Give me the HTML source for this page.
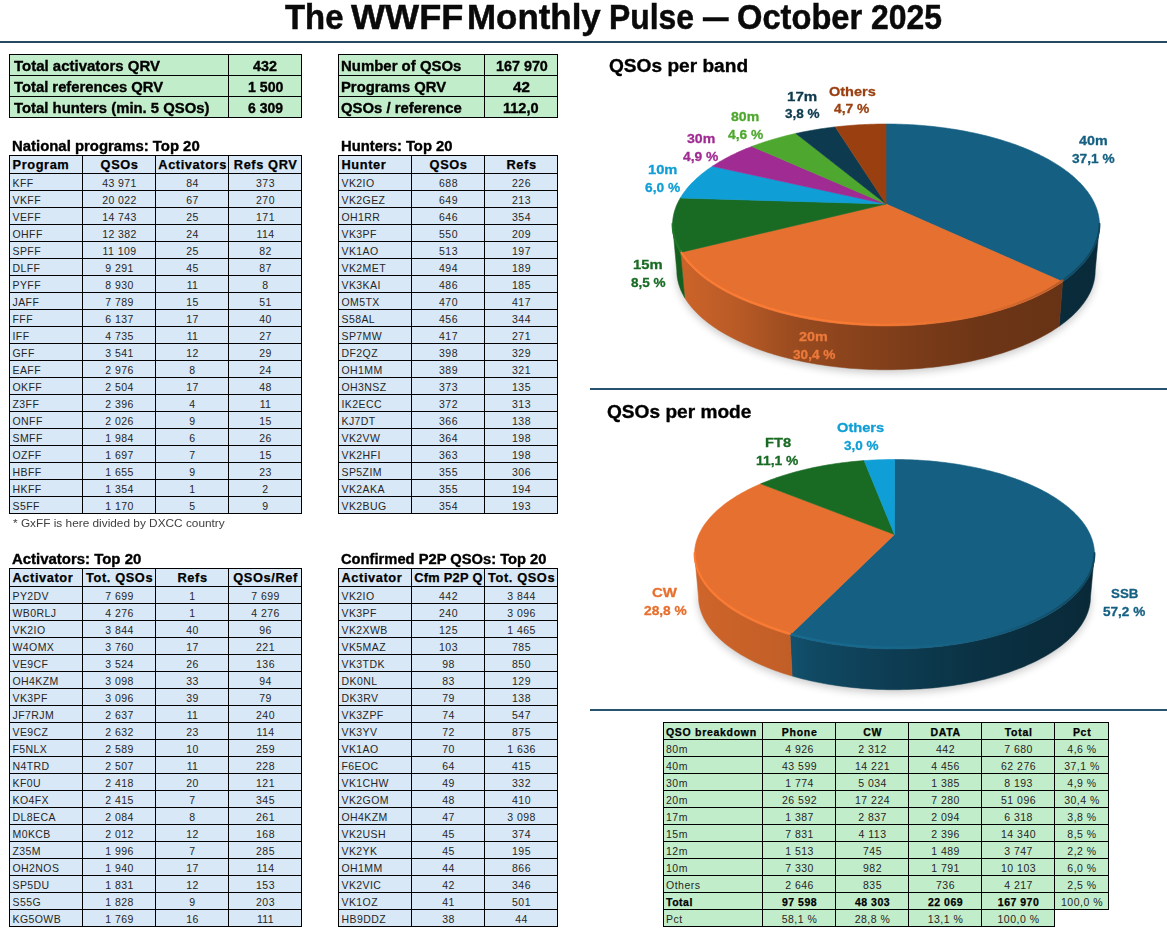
<!DOCTYPE html>
<html><head><meta charset="utf-8"><title>The WWFF Monthly Pulse - October 2025</title>
<style>
html,body{margin:0;padding:0;background:#fff;}
#pg{position:relative;width:1167px;height:932px;overflow:hidden;background:#fff;font-family:"Liberation Sans", sans-serif;}
.t{position:absolute;white-space:nowrap;}
.r{position:absolute;}
.pies{position:absolute;left:0;top:0;}
</style></head><body><div id="pg">
<div class="t" style="left:284.63px;top:-0.14px;font-size:34.9px;line-height:34.9px;color:#0a0a0a;font-weight:bold;transform:scaleX(0.9427483258658174);transform-origin:left top;-webkit-text-stroke:0.5px #0a0a0a;">The</div>
<div class="t" style="left:350.96px;top:-0.14px;font-size:34.9px;line-height:34.9px;color:#0a0a0a;font-weight:bold;transform:scaleX(1.035399185355529);transform-origin:left top;-webkit-text-stroke:0.5px #0a0a0a;">WWFF</div>
<div class="t" style="left:467.16px;top:-0.14px;font-size:34.9px;line-height:34.9px;color:#0a0a0a;font-weight:bold;transform:scaleX(1.000511599542946);transform-origin:left top;-webkit-text-stroke:0.5px #0a0a0a;">Monthly</div>
<div class="t" style="left:609.47px;top:-0.14px;font-size:34.9px;line-height:34.9px;color:#0a0a0a;font-weight:bold;transform:scaleX(0.9131031731194259);transform-origin:left top;-webkit-text-stroke:0.5px #0a0a0a;">Pulse</div>
<div class="t" style="left:702.60px;top:-0.14px;font-size:34.9px;line-height:34.9px;color:#0a0a0a;font-weight:bold;transform:scaleX(0.7306590257879656);transform-origin:left top;-webkit-text-stroke:0.5px #0a0a0a;">—</div>
<div class="t" style="left:736.76px;top:-0.14px;font-size:34.9px;line-height:34.9px;color:#0a0a0a;font-weight:bold;transform:scaleX(0.9359380167416419);transform-origin:left top;-webkit-text-stroke:0.5px #0a0a0a;">October</div>
<div class="t" style="left:870.89px;top:-0.14px;font-size:34.9px;line-height:34.9px;color:#0a0a0a;font-weight:bold;transform:scaleX(0.9144206055241069);transform-origin:left top;-webkit-text-stroke:0.5px #0a0a0a;">2025</div>
<div class="r" style="left:0px;top:41px;width:1167px;height:2px;background:#25495f;"></div>
<div class="r" style="left:9px;top:54px;width:293px;height:22px;background:#c2edca;"></div>
<div class="r" style="left:9px;top:75px;width:293px;height:22px;background:#c2edca;"></div>
<div class="r" style="left:9px;top:96px;width:293px;height:22px;background:#c2edca;"></div>
<div class="r" style="left:9px;top:54px;width:293px;height:1px;background:#000;"></div>
<div class="r" style="left:9px;top:75px;width:293px;height:1px;background:#000;"></div>
<div class="r" style="left:9px;top:96px;width:293px;height:1px;background:#000;"></div>
<div class="r" style="left:9px;top:117px;width:293px;height:1px;background:#000;"></div>
<div class="r" style="left:9px;top:54px;width:1px;height:64px;background:#000;"></div>
<div class="r" style="left:228px;top:54px;width:1px;height:64px;background:#000;"></div>
<div class="r" style="left:301px;top:54px;width:1px;height:64px;background:#000;"></div>
<div class="r" style="left:338px;top:54px;width:220px;height:22px;background:#c2edca;"></div>
<div class="r" style="left:338px;top:75px;width:220px;height:22px;background:#c2edca;"></div>
<div class="r" style="left:338px;top:96px;width:220px;height:22px;background:#c2edca;"></div>
<div class="r" style="left:338px;top:54px;width:220px;height:1px;background:#000;"></div>
<div class="r" style="left:338px;top:75px;width:220px;height:1px;background:#000;"></div>
<div class="r" style="left:338px;top:96px;width:220px;height:1px;background:#000;"></div>
<div class="r" style="left:338px;top:117px;width:220px;height:1px;background:#000;"></div>
<div class="r" style="left:338px;top:54px;width:1px;height:64px;background:#000;"></div>
<div class="r" style="left:484px;top:54px;width:1px;height:64px;background:#000;"></div>
<div class="r" style="left:557px;top:54px;width:1px;height:64px;background:#000;"></div>
<div class="t" style="left:13.83px;top:58.58px;font-size:14.2px;line-height:14.2px;color:#000;font-weight:bold;transform:scaleX(1.0565670844082748);transform-origin:left top;-webkit-text-stroke:0.35px #000;">Total activators QRV</div>
<div class="t" style="left:13.83px;top:79.58px;font-size:14.2px;line-height:14.2px;color:#000;font-weight:bold;transform:scaleX(1.0432614927734936);transform-origin:left top;-webkit-text-stroke:0.35px #000;">Total references QRV</div>
<div class="t" style="left:13.83px;top:100.58px;font-size:14.2px;line-height:14.2px;color:#000;font-weight:bold;transform:scaleX(1.0481042578504005);transform-origin:left top;-webkit-text-stroke:0.35px #000;">Total hunters (min. 5 QSOs)</div>
<div class="t" style="left:253.38px;top:58.58px;font-size:14.2px;line-height:14.2px;color:#000;font-weight:bold;transform:scaleX(1.0083552160420144);transform-origin:left top;-webkit-text-stroke:0.35px #000;">432</div>
<div class="t" style="left:247.81px;top:79.58px;font-size:14.2px;line-height:14.2px;color:#000;font-weight:bold;transform:scaleX(0.995366334816719);transform-origin:left top;-webkit-text-stroke:0.35px #000;">1 500</div>
<div class="t" style="left:248.19px;top:100.58px;font-size:14.2px;line-height:14.2px;color:#000;font-weight:bold;transform:scaleX(0.9829592755568404);transform-origin:left top;-webkit-text-stroke:0.35px #000;">6 309</div>
<div class="t" style="left:340.90px;top:58.58px;font-size:14.2px;line-height:14.2px;color:#000;font-weight:bold;transform:scaleX(1.0534058828058963);transform-origin:left top;-webkit-text-stroke:0.35px #000;">Number of QSOs</div>
<div class="t" style="left:340.91px;top:79.58px;font-size:14.2px;line-height:14.2px;color:#000;font-weight:bold;transform:scaleX(1.0434004456788595);transform-origin:left top;-webkit-text-stroke:0.35px #000;">Programs QRV</div>
<div class="t" style="left:341.29px;top:100.58px;font-size:14.2px;line-height:14.2px;color:#000;font-weight:bold;transform:scaleX(1.048449814641524);transform-origin:left top;-webkit-text-stroke:0.35px #000;">QSOs / reference</div>
<div class="t" style="left:495.70px;top:58.58px;font-size:14.2px;line-height:14.2px;color:#000;font-weight:bold;transform:scaleX(1.0109816059080488);transform-origin:left top;-webkit-text-stroke:0.35px #000;">167 970</div>
<div class="t" style="left:512.77px;top:79.58px;font-size:14.2px;line-height:14.2px;color:#000;font-weight:bold;transform:scaleX(1.0725303321081239);transform-origin:left top;-webkit-text-stroke:0.35px #000;">42</div>
<div class="t" style="left:502.88px;top:100.58px;font-size:14.2px;line-height:14.2px;color:#000;font-weight:bold;transform:scaleX(1.024728173601873);transform-origin:left top;-webkit-text-stroke:0.35px #000;">112,0</div>
<div class="r" style="left:9px;top:155px;width:293px;height:19px;background:#d8e8f6;"></div>
<div class="r" style="left:9px;top:173px;width:293px;height:18px;background:#d8e8f6;"></div>
<div class="r" style="left:9px;top:190px;width:293px;height:18px;background:#d8e8f6;"></div>
<div class="r" style="left:9px;top:207px;width:293px;height:18px;background:#d8e8f6;"></div>
<div class="r" style="left:9px;top:224px;width:293px;height:18px;background:#d8e8f6;"></div>
<div class="r" style="left:9px;top:241px;width:293px;height:18px;background:#d8e8f6;"></div>
<div class="r" style="left:9px;top:258px;width:293px;height:18px;background:#d8e8f6;"></div>
<div class="r" style="left:9px;top:275px;width:293px;height:18px;background:#d8e8f6;"></div>
<div class="r" style="left:9px;top:292px;width:293px;height:18px;background:#d8e8f6;"></div>
<div class="r" style="left:9px;top:309px;width:293px;height:18px;background:#d8e8f6;"></div>
<div class="r" style="left:9px;top:326px;width:293px;height:18px;background:#d8e8f6;"></div>
<div class="r" style="left:9px;top:343px;width:293px;height:18px;background:#d8e8f6;"></div>
<div class="r" style="left:9px;top:360px;width:293px;height:18px;background:#d8e8f6;"></div>
<div class="r" style="left:9px;top:377px;width:293px;height:18px;background:#d8e8f6;"></div>
<div class="r" style="left:9px;top:394px;width:293px;height:18px;background:#d8e8f6;"></div>
<div class="r" style="left:9px;top:411px;width:293px;height:18px;background:#d8e8f6;"></div>
<div class="r" style="left:9px;top:428px;width:293px;height:18px;background:#d8e8f6;"></div>
<div class="r" style="left:9px;top:445px;width:293px;height:18px;background:#d8e8f6;"></div>
<div class="r" style="left:9px;top:462px;width:293px;height:18px;background:#d8e8f6;"></div>
<div class="r" style="left:9px;top:479px;width:293px;height:18px;background:#d8e8f6;"></div>
<div class="r" style="left:9px;top:496px;width:293px;height:18px;background:#d8e8f6;"></div>
<div class="r" style="left:9px;top:155px;width:293px;height:1px;background:#000;"></div>
<div class="r" style="left:9px;top:173px;width:293px;height:1px;background:#000;"></div>
<div class="r" style="left:9px;top:190px;width:293px;height:1px;background:#000;"></div>
<div class="r" style="left:9px;top:207px;width:293px;height:1px;background:#000;"></div>
<div class="r" style="left:9px;top:224px;width:293px;height:1px;background:#000;"></div>
<div class="r" style="left:9px;top:241px;width:293px;height:1px;background:#000;"></div>
<div class="r" style="left:9px;top:258px;width:293px;height:1px;background:#000;"></div>
<div class="r" style="left:9px;top:275px;width:293px;height:1px;background:#000;"></div>
<div class="r" style="left:9px;top:292px;width:293px;height:1px;background:#000;"></div>
<div class="r" style="left:9px;top:309px;width:293px;height:1px;background:#000;"></div>
<div class="r" style="left:9px;top:326px;width:293px;height:1px;background:#000;"></div>
<div class="r" style="left:9px;top:343px;width:293px;height:1px;background:#000;"></div>
<div class="r" style="left:9px;top:360px;width:293px;height:1px;background:#000;"></div>
<div class="r" style="left:9px;top:377px;width:293px;height:1px;background:#000;"></div>
<div class="r" style="left:9px;top:394px;width:293px;height:1px;background:#000;"></div>
<div class="r" style="left:9px;top:411px;width:293px;height:1px;background:#000;"></div>
<div class="r" style="left:9px;top:428px;width:293px;height:1px;background:#000;"></div>
<div class="r" style="left:9px;top:445px;width:293px;height:1px;background:#000;"></div>
<div class="r" style="left:9px;top:462px;width:293px;height:1px;background:#000;"></div>
<div class="r" style="left:9px;top:479px;width:293px;height:1px;background:#000;"></div>
<div class="r" style="left:9px;top:496px;width:293px;height:1px;background:#000;"></div>
<div class="r" style="left:9px;top:513px;width:293px;height:1px;background:#000;"></div>
<div class="r" style="left:9px;top:155px;width:1px;height:359px;background:#000;"></div>
<div class="r" style="left:82px;top:155px;width:1px;height:359px;background:#000;"></div>
<div class="r" style="left:155px;top:155px;width:1px;height:359px;background:#000;"></div>
<div class="r" style="left:228px;top:155px;width:1px;height:359px;background:#000;"></div>
<div class="r" style="left:301px;top:155px;width:1px;height:359px;background:#000;"></div>
<div class="t" style="left:12.50px;top:158.76px;font-size:12.8px;line-height:12.8px;color:#000;font-weight:bold;letter-spacing:0.6px;-webkit-text-stroke:0.25px #000;">Program</div>
<div class="t" style="left:83.60px;top:158.76px;font-size:12.8px;line-height:12.8px;color:#000;font-weight:bold;letter-spacing:0.6px;width:72.00px;text-align:center;-webkit-text-stroke:0.25px #000;">QSOs</div>
<div class="t" style="left:156.60px;top:158.76px;font-size:12.8px;line-height:12.8px;color:#000;font-weight:bold;letter-spacing:0.6px;width:72.00px;text-align:center;-webkit-text-stroke:0.25px #000;">Activators</div>
<div class="t" style="left:229.60px;top:158.76px;font-size:12.8px;line-height:12.8px;color:#000;font-weight:bold;letter-spacing:0.6px;width:72.00px;text-align:center;-webkit-text-stroke:0.25px #000;">Refs QRV</div>
<div class="t" style="left:12.50px;top:178.01px;font-size:10.5px;line-height:10.5px;color:#262626;letter-spacing:0.42px;">KFF</div>
<div class="t" style="left:83.51px;top:178.01px;font-size:10.5px;line-height:10.5px;color:#262626;letter-spacing:0.42px;width:72.00px;text-align:center;">43 971</div>
<div class="t" style="left:156.51px;top:178.01px;font-size:10.5px;line-height:10.5px;color:#262626;letter-spacing:0.42px;width:72.00px;text-align:center;">84</div>
<div class="t" style="left:229.51px;top:178.01px;font-size:10.5px;line-height:10.5px;color:#262626;letter-spacing:0.42px;width:72.00px;text-align:center;">373</div>
<div class="t" style="left:12.50px;top:195.01px;font-size:10.5px;line-height:10.5px;color:#262626;letter-spacing:0.42px;">VKFF</div>
<div class="t" style="left:83.51px;top:195.01px;font-size:10.5px;line-height:10.5px;color:#262626;letter-spacing:0.42px;width:72.00px;text-align:center;">20 022</div>
<div class="t" style="left:156.51px;top:195.01px;font-size:10.5px;line-height:10.5px;color:#262626;letter-spacing:0.42px;width:72.00px;text-align:center;">67</div>
<div class="t" style="left:229.51px;top:195.01px;font-size:10.5px;line-height:10.5px;color:#262626;letter-spacing:0.42px;width:72.00px;text-align:center;">270</div>
<div class="t" style="left:12.50px;top:212.01px;font-size:10.5px;line-height:10.5px;color:#262626;letter-spacing:0.42px;">VEFF</div>
<div class="t" style="left:83.51px;top:212.01px;font-size:10.5px;line-height:10.5px;color:#262626;letter-spacing:0.42px;width:72.00px;text-align:center;">14 743</div>
<div class="t" style="left:156.51px;top:212.01px;font-size:10.5px;line-height:10.5px;color:#262626;letter-spacing:0.42px;width:72.00px;text-align:center;">25</div>
<div class="t" style="left:229.51px;top:212.01px;font-size:10.5px;line-height:10.5px;color:#262626;letter-spacing:0.42px;width:72.00px;text-align:center;">171</div>
<div class="t" style="left:12.50px;top:229.01px;font-size:10.5px;line-height:10.5px;color:#262626;letter-spacing:0.42px;">OHFF</div>
<div class="t" style="left:83.51px;top:229.01px;font-size:10.5px;line-height:10.5px;color:#262626;letter-spacing:0.42px;width:72.00px;text-align:center;">12 382</div>
<div class="t" style="left:156.51px;top:229.01px;font-size:10.5px;line-height:10.5px;color:#262626;letter-spacing:0.42px;width:72.00px;text-align:center;">24</div>
<div class="t" style="left:229.51px;top:229.01px;font-size:10.5px;line-height:10.5px;color:#262626;letter-spacing:0.42px;width:72.00px;text-align:center;">114</div>
<div class="t" style="left:12.50px;top:246.01px;font-size:10.5px;line-height:10.5px;color:#262626;letter-spacing:0.42px;">SPFF</div>
<div class="t" style="left:83.51px;top:246.01px;font-size:10.5px;line-height:10.5px;color:#262626;letter-spacing:0.42px;width:72.00px;text-align:center;">11 109</div>
<div class="t" style="left:156.51px;top:246.01px;font-size:10.5px;line-height:10.5px;color:#262626;letter-spacing:0.42px;width:72.00px;text-align:center;">25</div>
<div class="t" style="left:229.51px;top:246.01px;font-size:10.5px;line-height:10.5px;color:#262626;letter-spacing:0.42px;width:72.00px;text-align:center;">82</div>
<div class="t" style="left:12.50px;top:263.01px;font-size:10.5px;line-height:10.5px;color:#262626;letter-spacing:0.42px;">DLFF</div>
<div class="t" style="left:83.51px;top:263.01px;font-size:10.5px;line-height:10.5px;color:#262626;letter-spacing:0.42px;width:72.00px;text-align:center;">9 291</div>
<div class="t" style="left:156.51px;top:263.01px;font-size:10.5px;line-height:10.5px;color:#262626;letter-spacing:0.42px;width:72.00px;text-align:center;">45</div>
<div class="t" style="left:229.51px;top:263.01px;font-size:10.5px;line-height:10.5px;color:#262626;letter-spacing:0.42px;width:72.00px;text-align:center;">87</div>
<div class="t" style="left:12.50px;top:280.01px;font-size:10.5px;line-height:10.5px;color:#262626;letter-spacing:0.42px;">PYFF</div>
<div class="t" style="left:83.51px;top:280.01px;font-size:10.5px;line-height:10.5px;color:#262626;letter-spacing:0.42px;width:72.00px;text-align:center;">8 930</div>
<div class="t" style="left:156.51px;top:280.01px;font-size:10.5px;line-height:10.5px;color:#262626;letter-spacing:0.42px;width:72.00px;text-align:center;">11</div>
<div class="t" style="left:229.51px;top:280.01px;font-size:10.5px;line-height:10.5px;color:#262626;letter-spacing:0.42px;width:72.00px;text-align:center;">8</div>
<div class="t" style="left:12.50px;top:297.01px;font-size:10.5px;line-height:10.5px;color:#262626;letter-spacing:0.42px;">JAFF</div>
<div class="t" style="left:83.51px;top:297.01px;font-size:10.5px;line-height:10.5px;color:#262626;letter-spacing:0.42px;width:72.00px;text-align:center;">7 789</div>
<div class="t" style="left:156.51px;top:297.01px;font-size:10.5px;line-height:10.5px;color:#262626;letter-spacing:0.42px;width:72.00px;text-align:center;">15</div>
<div class="t" style="left:229.51px;top:297.01px;font-size:10.5px;line-height:10.5px;color:#262626;letter-spacing:0.42px;width:72.00px;text-align:center;">51</div>
<div class="t" style="left:12.50px;top:314.01px;font-size:10.5px;line-height:10.5px;color:#262626;letter-spacing:0.42px;">FFF</div>
<div class="t" style="left:83.51px;top:314.01px;font-size:10.5px;line-height:10.5px;color:#262626;letter-spacing:0.42px;width:72.00px;text-align:center;">6 137</div>
<div class="t" style="left:156.51px;top:314.01px;font-size:10.5px;line-height:10.5px;color:#262626;letter-spacing:0.42px;width:72.00px;text-align:center;">17</div>
<div class="t" style="left:229.51px;top:314.01px;font-size:10.5px;line-height:10.5px;color:#262626;letter-spacing:0.42px;width:72.00px;text-align:center;">40</div>
<div class="t" style="left:12.50px;top:331.01px;font-size:10.5px;line-height:10.5px;color:#262626;letter-spacing:0.42px;">IFF</div>
<div class="t" style="left:83.51px;top:331.01px;font-size:10.5px;line-height:10.5px;color:#262626;letter-spacing:0.42px;width:72.00px;text-align:center;">4 735</div>
<div class="t" style="left:156.51px;top:331.01px;font-size:10.5px;line-height:10.5px;color:#262626;letter-spacing:0.42px;width:72.00px;text-align:center;">11</div>
<div class="t" style="left:229.51px;top:331.01px;font-size:10.5px;line-height:10.5px;color:#262626;letter-spacing:0.42px;width:72.00px;text-align:center;">27</div>
<div class="t" style="left:12.50px;top:348.01px;font-size:10.5px;line-height:10.5px;color:#262626;letter-spacing:0.42px;">GFF</div>
<div class="t" style="left:83.51px;top:348.01px;font-size:10.5px;line-height:10.5px;color:#262626;letter-spacing:0.42px;width:72.00px;text-align:center;">3 541</div>
<div class="t" style="left:156.51px;top:348.01px;font-size:10.5px;line-height:10.5px;color:#262626;letter-spacing:0.42px;width:72.00px;text-align:center;">12</div>
<div class="t" style="left:229.51px;top:348.01px;font-size:10.5px;line-height:10.5px;color:#262626;letter-spacing:0.42px;width:72.00px;text-align:center;">29</div>
<div class="t" style="left:12.50px;top:365.01px;font-size:10.5px;line-height:10.5px;color:#262626;letter-spacing:0.42px;">EAFF</div>
<div class="t" style="left:83.51px;top:365.01px;font-size:10.5px;line-height:10.5px;color:#262626;letter-spacing:0.42px;width:72.00px;text-align:center;">2 976</div>
<div class="t" style="left:156.51px;top:365.01px;font-size:10.5px;line-height:10.5px;color:#262626;letter-spacing:0.42px;width:72.00px;text-align:center;">8</div>
<div class="t" style="left:229.51px;top:365.01px;font-size:10.5px;line-height:10.5px;color:#262626;letter-spacing:0.42px;width:72.00px;text-align:center;">24</div>
<div class="t" style="left:12.50px;top:382.01px;font-size:10.5px;line-height:10.5px;color:#262626;letter-spacing:0.42px;">OKFF</div>
<div class="t" style="left:83.51px;top:382.01px;font-size:10.5px;line-height:10.5px;color:#262626;letter-spacing:0.42px;width:72.00px;text-align:center;">2 504</div>
<div class="t" style="left:156.51px;top:382.01px;font-size:10.5px;line-height:10.5px;color:#262626;letter-spacing:0.42px;width:72.00px;text-align:center;">17</div>
<div class="t" style="left:229.51px;top:382.01px;font-size:10.5px;line-height:10.5px;color:#262626;letter-spacing:0.42px;width:72.00px;text-align:center;">48</div>
<div class="t" style="left:12.50px;top:399.01px;font-size:10.5px;line-height:10.5px;color:#262626;letter-spacing:0.42px;">Z3FF</div>
<div class="t" style="left:83.51px;top:399.01px;font-size:10.5px;line-height:10.5px;color:#262626;letter-spacing:0.42px;width:72.00px;text-align:center;">2 396</div>
<div class="t" style="left:156.51px;top:399.01px;font-size:10.5px;line-height:10.5px;color:#262626;letter-spacing:0.42px;width:72.00px;text-align:center;">4</div>
<div class="t" style="left:229.51px;top:399.01px;font-size:10.5px;line-height:10.5px;color:#262626;letter-spacing:0.42px;width:72.00px;text-align:center;">11</div>
<div class="t" style="left:12.50px;top:416.01px;font-size:10.5px;line-height:10.5px;color:#262626;letter-spacing:0.42px;">ONFF</div>
<div class="t" style="left:83.51px;top:416.01px;font-size:10.5px;line-height:10.5px;color:#262626;letter-spacing:0.42px;width:72.00px;text-align:center;">2 026</div>
<div class="t" style="left:156.51px;top:416.01px;font-size:10.5px;line-height:10.5px;color:#262626;letter-spacing:0.42px;width:72.00px;text-align:center;">9</div>
<div class="t" style="left:229.51px;top:416.01px;font-size:10.5px;line-height:10.5px;color:#262626;letter-spacing:0.42px;width:72.00px;text-align:center;">15</div>
<div class="t" style="left:12.50px;top:433.01px;font-size:10.5px;line-height:10.5px;color:#262626;letter-spacing:0.42px;">SMFF</div>
<div class="t" style="left:83.51px;top:433.01px;font-size:10.5px;line-height:10.5px;color:#262626;letter-spacing:0.42px;width:72.00px;text-align:center;">1 984</div>
<div class="t" style="left:156.51px;top:433.01px;font-size:10.5px;line-height:10.5px;color:#262626;letter-spacing:0.42px;width:72.00px;text-align:center;">6</div>
<div class="t" style="left:229.51px;top:433.01px;font-size:10.5px;line-height:10.5px;color:#262626;letter-spacing:0.42px;width:72.00px;text-align:center;">26</div>
<div class="t" style="left:12.50px;top:450.01px;font-size:10.5px;line-height:10.5px;color:#262626;letter-spacing:0.42px;">OZFF</div>
<div class="t" style="left:83.51px;top:450.01px;font-size:10.5px;line-height:10.5px;color:#262626;letter-spacing:0.42px;width:72.00px;text-align:center;">1 697</div>
<div class="t" style="left:156.51px;top:450.01px;font-size:10.5px;line-height:10.5px;color:#262626;letter-spacing:0.42px;width:72.00px;text-align:center;">7</div>
<div class="t" style="left:229.51px;top:450.01px;font-size:10.5px;line-height:10.5px;color:#262626;letter-spacing:0.42px;width:72.00px;text-align:center;">15</div>
<div class="t" style="left:12.50px;top:467.01px;font-size:10.5px;line-height:10.5px;color:#262626;letter-spacing:0.42px;">HBFF</div>
<div class="t" style="left:83.51px;top:467.01px;font-size:10.5px;line-height:10.5px;color:#262626;letter-spacing:0.42px;width:72.00px;text-align:center;">1 655</div>
<div class="t" style="left:156.51px;top:467.01px;font-size:10.5px;line-height:10.5px;color:#262626;letter-spacing:0.42px;width:72.00px;text-align:center;">9</div>
<div class="t" style="left:229.51px;top:467.01px;font-size:10.5px;line-height:10.5px;color:#262626;letter-spacing:0.42px;width:72.00px;text-align:center;">23</div>
<div class="t" style="left:12.50px;top:484.01px;font-size:10.5px;line-height:10.5px;color:#262626;letter-spacing:0.42px;">HKFF</div>
<div class="t" style="left:83.51px;top:484.01px;font-size:10.5px;line-height:10.5px;color:#262626;letter-spacing:0.42px;width:72.00px;text-align:center;">1 354</div>
<div class="t" style="left:156.51px;top:484.01px;font-size:10.5px;line-height:10.5px;color:#262626;letter-spacing:0.42px;width:72.00px;text-align:center;">1</div>
<div class="t" style="left:229.51px;top:484.01px;font-size:10.5px;line-height:10.5px;color:#262626;letter-spacing:0.42px;width:72.00px;text-align:center;">2</div>
<div class="t" style="left:12.50px;top:501.01px;font-size:10.5px;line-height:10.5px;color:#262626;letter-spacing:0.42px;">S5FF</div>
<div class="t" style="left:83.51px;top:501.01px;font-size:10.5px;line-height:10.5px;color:#262626;letter-spacing:0.42px;width:72.00px;text-align:center;">1 170</div>
<div class="t" style="left:156.51px;top:501.01px;font-size:10.5px;line-height:10.5px;color:#262626;letter-spacing:0.42px;width:72.00px;text-align:center;">5</div>
<div class="t" style="left:229.51px;top:501.01px;font-size:10.5px;line-height:10.5px;color:#262626;letter-spacing:0.42px;width:72.00px;text-align:center;">9</div>
<div class="t" style="left:11.80px;top:138.75px;font-size:14px;line-height:14px;color:#000;font-weight:bold;transform:scaleX(1.064557833707266);transform-origin:left top;-webkit-text-stroke:0.35px #000;">National programs: Top 20</div>
<div class="r" style="left:338px;top:155px;width:220px;height:19px;background:#d8e8f6;"></div>
<div class="r" style="left:338px;top:173px;width:220px;height:18px;background:#d8e8f6;"></div>
<div class="r" style="left:338px;top:190px;width:220px;height:18px;background:#d8e8f6;"></div>
<div class="r" style="left:338px;top:207px;width:220px;height:18px;background:#d8e8f6;"></div>
<div class="r" style="left:338px;top:224px;width:220px;height:18px;background:#d8e8f6;"></div>
<div class="r" style="left:338px;top:241px;width:220px;height:18px;background:#d8e8f6;"></div>
<div class="r" style="left:338px;top:258px;width:220px;height:18px;background:#d8e8f6;"></div>
<div class="r" style="left:338px;top:275px;width:220px;height:18px;background:#d8e8f6;"></div>
<div class="r" style="left:338px;top:292px;width:220px;height:18px;background:#d8e8f6;"></div>
<div class="r" style="left:338px;top:309px;width:220px;height:18px;background:#d8e8f6;"></div>
<div class="r" style="left:338px;top:326px;width:220px;height:18px;background:#d8e8f6;"></div>
<div class="r" style="left:338px;top:343px;width:220px;height:18px;background:#d8e8f6;"></div>
<div class="r" style="left:338px;top:360px;width:220px;height:18px;background:#d8e8f6;"></div>
<div class="r" style="left:338px;top:377px;width:220px;height:18px;background:#d8e8f6;"></div>
<div class="r" style="left:338px;top:394px;width:220px;height:18px;background:#d8e8f6;"></div>
<div class="r" style="left:338px;top:411px;width:220px;height:18px;background:#d8e8f6;"></div>
<div class="r" style="left:338px;top:428px;width:220px;height:18px;background:#d8e8f6;"></div>
<div class="r" style="left:338px;top:445px;width:220px;height:18px;background:#d8e8f6;"></div>
<div class="r" style="left:338px;top:462px;width:220px;height:18px;background:#d8e8f6;"></div>
<div class="r" style="left:338px;top:479px;width:220px;height:18px;background:#d8e8f6;"></div>
<div class="r" style="left:338px;top:496px;width:220px;height:18px;background:#d8e8f6;"></div>
<div class="r" style="left:338px;top:155px;width:220px;height:1px;background:#000;"></div>
<div class="r" style="left:338px;top:173px;width:220px;height:1px;background:#000;"></div>
<div class="r" style="left:338px;top:190px;width:220px;height:1px;background:#000;"></div>
<div class="r" style="left:338px;top:207px;width:220px;height:1px;background:#000;"></div>
<div class="r" style="left:338px;top:224px;width:220px;height:1px;background:#000;"></div>
<div class="r" style="left:338px;top:241px;width:220px;height:1px;background:#000;"></div>
<div class="r" style="left:338px;top:258px;width:220px;height:1px;background:#000;"></div>
<div class="r" style="left:338px;top:275px;width:220px;height:1px;background:#000;"></div>
<div class="r" style="left:338px;top:292px;width:220px;height:1px;background:#000;"></div>
<div class="r" style="left:338px;top:309px;width:220px;height:1px;background:#000;"></div>
<div class="r" style="left:338px;top:326px;width:220px;height:1px;background:#000;"></div>
<div class="r" style="left:338px;top:343px;width:220px;height:1px;background:#000;"></div>
<div class="r" style="left:338px;top:360px;width:220px;height:1px;background:#000;"></div>
<div class="r" style="left:338px;top:377px;width:220px;height:1px;background:#000;"></div>
<div class="r" style="left:338px;top:394px;width:220px;height:1px;background:#000;"></div>
<div class="r" style="left:338px;top:411px;width:220px;height:1px;background:#000;"></div>
<div class="r" style="left:338px;top:428px;width:220px;height:1px;background:#000;"></div>
<div class="r" style="left:338px;top:445px;width:220px;height:1px;background:#000;"></div>
<div class="r" style="left:338px;top:462px;width:220px;height:1px;background:#000;"></div>
<div class="r" style="left:338px;top:479px;width:220px;height:1px;background:#000;"></div>
<div class="r" style="left:338px;top:496px;width:220px;height:1px;background:#000;"></div>
<div class="r" style="left:338px;top:513px;width:220px;height:1px;background:#000;"></div>
<div class="r" style="left:338px;top:155px;width:1px;height:359px;background:#000;"></div>
<div class="r" style="left:411px;top:155px;width:1px;height:359px;background:#000;"></div>
<div class="r" style="left:484px;top:155px;width:1px;height:359px;background:#000;"></div>
<div class="r" style="left:557px;top:155px;width:1px;height:359px;background:#000;"></div>
<div class="t" style="left:341.50px;top:158.76px;font-size:12.8px;line-height:12.8px;color:#000;font-weight:bold;letter-spacing:0.6px;-webkit-text-stroke:0.25px #000;">Hunter</div>
<div class="t" style="left:412.60px;top:158.76px;font-size:12.8px;line-height:12.8px;color:#000;font-weight:bold;letter-spacing:0.6px;width:72.00px;text-align:center;-webkit-text-stroke:0.25px #000;">QSOs</div>
<div class="t" style="left:485.60px;top:158.76px;font-size:12.8px;line-height:12.8px;color:#000;font-weight:bold;letter-spacing:0.6px;width:72.00px;text-align:center;-webkit-text-stroke:0.25px #000;">Refs</div>
<div class="t" style="left:341.50px;top:178.01px;font-size:10.5px;line-height:10.5px;color:#262626;letter-spacing:0.42px;">VK2IO</div>
<div class="t" style="left:412.51px;top:178.01px;font-size:10.5px;line-height:10.5px;color:#262626;letter-spacing:0.42px;width:72.00px;text-align:center;">688</div>
<div class="t" style="left:485.51px;top:178.01px;font-size:10.5px;line-height:10.5px;color:#262626;letter-spacing:0.42px;width:72.00px;text-align:center;">226</div>
<div class="t" style="left:341.50px;top:195.01px;font-size:10.5px;line-height:10.5px;color:#262626;letter-spacing:0.42px;">VK2GEZ</div>
<div class="t" style="left:412.51px;top:195.01px;font-size:10.5px;line-height:10.5px;color:#262626;letter-spacing:0.42px;width:72.00px;text-align:center;">649</div>
<div class="t" style="left:485.51px;top:195.01px;font-size:10.5px;line-height:10.5px;color:#262626;letter-spacing:0.42px;width:72.00px;text-align:center;">213</div>
<div class="t" style="left:341.50px;top:212.01px;font-size:10.5px;line-height:10.5px;color:#262626;letter-spacing:0.42px;">OH1RR</div>
<div class="t" style="left:412.51px;top:212.01px;font-size:10.5px;line-height:10.5px;color:#262626;letter-spacing:0.42px;width:72.00px;text-align:center;">646</div>
<div class="t" style="left:485.51px;top:212.01px;font-size:10.5px;line-height:10.5px;color:#262626;letter-spacing:0.42px;width:72.00px;text-align:center;">354</div>
<div class="t" style="left:341.50px;top:229.01px;font-size:10.5px;line-height:10.5px;color:#262626;letter-spacing:0.42px;">VK3PF</div>
<div class="t" style="left:412.51px;top:229.01px;font-size:10.5px;line-height:10.5px;color:#262626;letter-spacing:0.42px;width:72.00px;text-align:center;">550</div>
<div class="t" style="left:485.51px;top:229.01px;font-size:10.5px;line-height:10.5px;color:#262626;letter-spacing:0.42px;width:72.00px;text-align:center;">209</div>
<div class="t" style="left:341.50px;top:246.01px;font-size:10.5px;line-height:10.5px;color:#262626;letter-spacing:0.42px;">VK1AO</div>
<div class="t" style="left:412.51px;top:246.01px;font-size:10.5px;line-height:10.5px;color:#262626;letter-spacing:0.42px;width:72.00px;text-align:center;">513</div>
<div class="t" style="left:485.51px;top:246.01px;font-size:10.5px;line-height:10.5px;color:#262626;letter-spacing:0.42px;width:72.00px;text-align:center;">197</div>
<div class="t" style="left:341.50px;top:263.01px;font-size:10.5px;line-height:10.5px;color:#262626;letter-spacing:0.42px;">VK2MET</div>
<div class="t" style="left:412.51px;top:263.01px;font-size:10.5px;line-height:10.5px;color:#262626;letter-spacing:0.42px;width:72.00px;text-align:center;">494</div>
<div class="t" style="left:485.51px;top:263.01px;font-size:10.5px;line-height:10.5px;color:#262626;letter-spacing:0.42px;width:72.00px;text-align:center;">189</div>
<div class="t" style="left:341.50px;top:280.01px;font-size:10.5px;line-height:10.5px;color:#262626;letter-spacing:0.42px;">VK3KAI</div>
<div class="t" style="left:412.51px;top:280.01px;font-size:10.5px;line-height:10.5px;color:#262626;letter-spacing:0.42px;width:72.00px;text-align:center;">486</div>
<div class="t" style="left:485.51px;top:280.01px;font-size:10.5px;line-height:10.5px;color:#262626;letter-spacing:0.42px;width:72.00px;text-align:center;">185</div>
<div class="t" style="left:341.50px;top:297.01px;font-size:10.5px;line-height:10.5px;color:#262626;letter-spacing:0.42px;">OM5TX</div>
<div class="t" style="left:412.51px;top:297.01px;font-size:10.5px;line-height:10.5px;color:#262626;letter-spacing:0.42px;width:72.00px;text-align:center;">470</div>
<div class="t" style="left:485.51px;top:297.01px;font-size:10.5px;line-height:10.5px;color:#262626;letter-spacing:0.42px;width:72.00px;text-align:center;">417</div>
<div class="t" style="left:341.50px;top:314.01px;font-size:10.5px;line-height:10.5px;color:#262626;letter-spacing:0.42px;">S58AL</div>
<div class="t" style="left:412.51px;top:314.01px;font-size:10.5px;line-height:10.5px;color:#262626;letter-spacing:0.42px;width:72.00px;text-align:center;">456</div>
<div class="t" style="left:485.51px;top:314.01px;font-size:10.5px;line-height:10.5px;color:#262626;letter-spacing:0.42px;width:72.00px;text-align:center;">344</div>
<div class="t" style="left:341.50px;top:331.01px;font-size:10.5px;line-height:10.5px;color:#262626;letter-spacing:0.42px;">SP7MW</div>
<div class="t" style="left:412.51px;top:331.01px;font-size:10.5px;line-height:10.5px;color:#262626;letter-spacing:0.42px;width:72.00px;text-align:center;">417</div>
<div class="t" style="left:485.51px;top:331.01px;font-size:10.5px;line-height:10.5px;color:#262626;letter-spacing:0.42px;width:72.00px;text-align:center;">271</div>
<div class="t" style="left:341.50px;top:348.01px;font-size:10.5px;line-height:10.5px;color:#262626;letter-spacing:0.42px;">DF2QZ</div>
<div class="t" style="left:412.51px;top:348.01px;font-size:10.5px;line-height:10.5px;color:#262626;letter-spacing:0.42px;width:72.00px;text-align:center;">398</div>
<div class="t" style="left:485.51px;top:348.01px;font-size:10.5px;line-height:10.5px;color:#262626;letter-spacing:0.42px;width:72.00px;text-align:center;">329</div>
<div class="t" style="left:341.50px;top:365.01px;font-size:10.5px;line-height:10.5px;color:#262626;letter-spacing:0.42px;">OH1MM</div>
<div class="t" style="left:412.51px;top:365.01px;font-size:10.5px;line-height:10.5px;color:#262626;letter-spacing:0.42px;width:72.00px;text-align:center;">389</div>
<div class="t" style="left:485.51px;top:365.01px;font-size:10.5px;line-height:10.5px;color:#262626;letter-spacing:0.42px;width:72.00px;text-align:center;">321</div>
<div class="t" style="left:341.50px;top:382.01px;font-size:10.5px;line-height:10.5px;color:#262626;letter-spacing:0.42px;">OH3NSZ</div>
<div class="t" style="left:412.51px;top:382.01px;font-size:10.5px;line-height:10.5px;color:#262626;letter-spacing:0.42px;width:72.00px;text-align:center;">373</div>
<div class="t" style="left:485.51px;top:382.01px;font-size:10.5px;line-height:10.5px;color:#262626;letter-spacing:0.42px;width:72.00px;text-align:center;">135</div>
<div class="t" style="left:341.50px;top:399.01px;font-size:10.5px;line-height:10.5px;color:#262626;letter-spacing:0.42px;">IK2ECC</div>
<div class="t" style="left:412.51px;top:399.01px;font-size:10.5px;line-height:10.5px;color:#262626;letter-spacing:0.42px;width:72.00px;text-align:center;">372</div>
<div class="t" style="left:485.51px;top:399.01px;font-size:10.5px;line-height:10.5px;color:#262626;letter-spacing:0.42px;width:72.00px;text-align:center;">313</div>
<div class="t" style="left:341.50px;top:416.01px;font-size:10.5px;line-height:10.5px;color:#262626;letter-spacing:0.42px;">KJ7DT</div>
<div class="t" style="left:412.51px;top:416.01px;font-size:10.5px;line-height:10.5px;color:#262626;letter-spacing:0.42px;width:72.00px;text-align:center;">366</div>
<div class="t" style="left:485.51px;top:416.01px;font-size:10.5px;line-height:10.5px;color:#262626;letter-spacing:0.42px;width:72.00px;text-align:center;">138</div>
<div class="t" style="left:341.50px;top:433.01px;font-size:10.5px;line-height:10.5px;color:#262626;letter-spacing:0.42px;">VK2VW</div>
<div class="t" style="left:412.51px;top:433.01px;font-size:10.5px;line-height:10.5px;color:#262626;letter-spacing:0.42px;width:72.00px;text-align:center;">364</div>
<div class="t" style="left:485.51px;top:433.01px;font-size:10.5px;line-height:10.5px;color:#262626;letter-spacing:0.42px;width:72.00px;text-align:center;">198</div>
<div class="t" style="left:341.50px;top:450.01px;font-size:10.5px;line-height:10.5px;color:#262626;letter-spacing:0.42px;">VK2HFI</div>
<div class="t" style="left:412.51px;top:450.01px;font-size:10.5px;line-height:10.5px;color:#262626;letter-spacing:0.42px;width:72.00px;text-align:center;">363</div>
<div class="t" style="left:485.51px;top:450.01px;font-size:10.5px;line-height:10.5px;color:#262626;letter-spacing:0.42px;width:72.00px;text-align:center;">198</div>
<div class="t" style="left:341.50px;top:467.01px;font-size:10.5px;line-height:10.5px;color:#262626;letter-spacing:0.42px;">SP5ZIM</div>
<div class="t" style="left:412.51px;top:467.01px;font-size:10.5px;line-height:10.5px;color:#262626;letter-spacing:0.42px;width:72.00px;text-align:center;">355</div>
<div class="t" style="left:485.51px;top:467.01px;font-size:10.5px;line-height:10.5px;color:#262626;letter-spacing:0.42px;width:72.00px;text-align:center;">306</div>
<div class="t" style="left:341.50px;top:484.01px;font-size:10.5px;line-height:10.5px;color:#262626;letter-spacing:0.42px;">VK2AKA</div>
<div class="t" style="left:412.51px;top:484.01px;font-size:10.5px;line-height:10.5px;color:#262626;letter-spacing:0.42px;width:72.00px;text-align:center;">355</div>
<div class="t" style="left:485.51px;top:484.01px;font-size:10.5px;line-height:10.5px;color:#262626;letter-spacing:0.42px;width:72.00px;text-align:center;">194</div>
<div class="t" style="left:341.50px;top:501.01px;font-size:10.5px;line-height:10.5px;color:#262626;letter-spacing:0.42px;">VK2BUG</div>
<div class="t" style="left:412.51px;top:501.01px;font-size:10.5px;line-height:10.5px;color:#262626;letter-spacing:0.42px;width:72.00px;text-align:center;">354</div>
<div class="t" style="left:485.51px;top:501.01px;font-size:10.5px;line-height:10.5px;color:#262626;letter-spacing:0.42px;width:72.00px;text-align:center;">193</div>
<div class="t" style="left:341.01px;top:138.95px;font-size:14px;line-height:14px;color:#000;font-weight:bold;transform:scaleX(1.0565925485238343);transform-origin:left top;-webkit-text-stroke:0.35px #000;">Hunters: Top 20</div>
<div class="t" style="left:12.51px;top:517.72px;font-size:11.2px;line-height:11.2px;color:#404040;transform:scaleX(1.0573270278285032);transform-origin:left top;">* GxFF is here divided by DXCC country</div>
<div class="r" style="left:9px;top:568px;width:293px;height:19px;background:#d8e8f6;"></div>
<div class="r" style="left:9px;top:586px;width:293px;height:18px;background:#d8e8f6;"></div>
<div class="r" style="left:9px;top:603px;width:293px;height:18px;background:#d8e8f6;"></div>
<div class="r" style="left:9px;top:620px;width:293px;height:18px;background:#d8e8f6;"></div>
<div class="r" style="left:9px;top:637px;width:293px;height:18px;background:#d8e8f6;"></div>
<div class="r" style="left:9px;top:654px;width:293px;height:18px;background:#d8e8f6;"></div>
<div class="r" style="left:9px;top:671px;width:293px;height:18px;background:#d8e8f6;"></div>
<div class="r" style="left:9px;top:688px;width:293px;height:18px;background:#d8e8f6;"></div>
<div class="r" style="left:9px;top:705px;width:293px;height:18px;background:#d8e8f6;"></div>
<div class="r" style="left:9px;top:722px;width:293px;height:18px;background:#d8e8f6;"></div>
<div class="r" style="left:9px;top:739px;width:293px;height:18px;background:#d8e8f6;"></div>
<div class="r" style="left:9px;top:756px;width:293px;height:18px;background:#d8e8f6;"></div>
<div class="r" style="left:9px;top:773px;width:293px;height:18px;background:#d8e8f6;"></div>
<div class="r" style="left:9px;top:790px;width:293px;height:18px;background:#d8e8f6;"></div>
<div class="r" style="left:9px;top:807px;width:293px;height:18px;background:#d8e8f6;"></div>
<div class="r" style="left:9px;top:824px;width:293px;height:18px;background:#d8e8f6;"></div>
<div class="r" style="left:9px;top:841px;width:293px;height:18px;background:#d8e8f6;"></div>
<div class="r" style="left:9px;top:858px;width:293px;height:18px;background:#d8e8f6;"></div>
<div class="r" style="left:9px;top:875px;width:293px;height:18px;background:#d8e8f6;"></div>
<div class="r" style="left:9px;top:892px;width:293px;height:18px;background:#d8e8f6;"></div>
<div class="r" style="left:9px;top:909px;width:293px;height:18px;background:#d8e8f6;"></div>
<div class="r" style="left:9px;top:568px;width:293px;height:1px;background:#000;"></div>
<div class="r" style="left:9px;top:586px;width:293px;height:1px;background:#000;"></div>
<div class="r" style="left:9px;top:603px;width:293px;height:1px;background:#000;"></div>
<div class="r" style="left:9px;top:620px;width:293px;height:1px;background:#000;"></div>
<div class="r" style="left:9px;top:637px;width:293px;height:1px;background:#000;"></div>
<div class="r" style="left:9px;top:654px;width:293px;height:1px;background:#000;"></div>
<div class="r" style="left:9px;top:671px;width:293px;height:1px;background:#000;"></div>
<div class="r" style="left:9px;top:688px;width:293px;height:1px;background:#000;"></div>
<div class="r" style="left:9px;top:705px;width:293px;height:1px;background:#000;"></div>
<div class="r" style="left:9px;top:722px;width:293px;height:1px;background:#000;"></div>
<div class="r" style="left:9px;top:739px;width:293px;height:1px;background:#000;"></div>
<div class="r" style="left:9px;top:756px;width:293px;height:1px;background:#000;"></div>
<div class="r" style="left:9px;top:773px;width:293px;height:1px;background:#000;"></div>
<div class="r" style="left:9px;top:790px;width:293px;height:1px;background:#000;"></div>
<div class="r" style="left:9px;top:807px;width:293px;height:1px;background:#000;"></div>
<div class="r" style="left:9px;top:824px;width:293px;height:1px;background:#000;"></div>
<div class="r" style="left:9px;top:841px;width:293px;height:1px;background:#000;"></div>
<div class="r" style="left:9px;top:858px;width:293px;height:1px;background:#000;"></div>
<div class="r" style="left:9px;top:875px;width:293px;height:1px;background:#000;"></div>
<div class="r" style="left:9px;top:892px;width:293px;height:1px;background:#000;"></div>
<div class="r" style="left:9px;top:909px;width:293px;height:1px;background:#000;"></div>
<div class="r" style="left:9px;top:926px;width:293px;height:1px;background:#000;"></div>
<div class="r" style="left:9px;top:568px;width:1px;height:359px;background:#000;"></div>
<div class="r" style="left:82px;top:568px;width:1px;height:359px;background:#000;"></div>
<div class="r" style="left:155px;top:568px;width:1px;height:359px;background:#000;"></div>
<div class="r" style="left:228px;top:568px;width:1px;height:359px;background:#000;"></div>
<div class="r" style="left:301px;top:568px;width:1px;height:359px;background:#000;"></div>
<div class="t" style="left:12.50px;top:571.76px;font-size:12.8px;line-height:12.8px;color:#000;font-weight:bold;letter-spacing:0.6px;-webkit-text-stroke:0.25px #000;">Activator</div>
<div class="t" style="left:83.60px;top:571.76px;font-size:12.8px;line-height:12.8px;color:#000;font-weight:bold;letter-spacing:0.6px;width:72.00px;text-align:center;-webkit-text-stroke:0.25px #000;">Tot. QSOs</div>
<div class="t" style="left:156.60px;top:571.76px;font-size:12.8px;line-height:12.8px;color:#000;font-weight:bold;letter-spacing:0.6px;width:72.00px;text-align:center;-webkit-text-stroke:0.25px #000;">Refs</div>
<div class="t" style="left:229.60px;top:571.76px;font-size:12.8px;line-height:12.8px;color:#000;font-weight:bold;letter-spacing:0.6px;width:72.00px;text-align:center;-webkit-text-stroke:0.25px #000;">QSOs/Ref</div>
<div class="t" style="left:12.50px;top:591.01px;font-size:10.5px;line-height:10.5px;color:#262626;letter-spacing:0.42px;">PY2DV</div>
<div class="t" style="left:83.51px;top:591.01px;font-size:10.5px;line-height:10.5px;color:#262626;letter-spacing:0.42px;width:72.00px;text-align:center;">7 699</div>
<div class="t" style="left:156.51px;top:591.01px;font-size:10.5px;line-height:10.5px;color:#262626;letter-spacing:0.42px;width:72.00px;text-align:center;">1</div>
<div class="t" style="left:229.51px;top:591.01px;font-size:10.5px;line-height:10.5px;color:#262626;letter-spacing:0.42px;width:72.00px;text-align:center;">7 699</div>
<div class="t" style="left:12.50px;top:608.01px;font-size:10.5px;line-height:10.5px;color:#262626;letter-spacing:0.42px;">WB0RLJ</div>
<div class="t" style="left:83.51px;top:608.01px;font-size:10.5px;line-height:10.5px;color:#262626;letter-spacing:0.42px;width:72.00px;text-align:center;">4 276</div>
<div class="t" style="left:156.51px;top:608.01px;font-size:10.5px;line-height:10.5px;color:#262626;letter-spacing:0.42px;width:72.00px;text-align:center;">1</div>
<div class="t" style="left:229.51px;top:608.01px;font-size:10.5px;line-height:10.5px;color:#262626;letter-spacing:0.42px;width:72.00px;text-align:center;">4 276</div>
<div class="t" style="left:12.50px;top:625.01px;font-size:10.5px;line-height:10.5px;color:#262626;letter-spacing:0.42px;">VK2IO</div>
<div class="t" style="left:83.51px;top:625.01px;font-size:10.5px;line-height:10.5px;color:#262626;letter-spacing:0.42px;width:72.00px;text-align:center;">3 844</div>
<div class="t" style="left:156.51px;top:625.01px;font-size:10.5px;line-height:10.5px;color:#262626;letter-spacing:0.42px;width:72.00px;text-align:center;">40</div>
<div class="t" style="left:229.51px;top:625.01px;font-size:10.5px;line-height:10.5px;color:#262626;letter-spacing:0.42px;width:72.00px;text-align:center;">96</div>
<div class="t" style="left:12.50px;top:642.01px;font-size:10.5px;line-height:10.5px;color:#262626;letter-spacing:0.42px;">W4OMX</div>
<div class="t" style="left:83.51px;top:642.01px;font-size:10.5px;line-height:10.5px;color:#262626;letter-spacing:0.42px;width:72.00px;text-align:center;">3 760</div>
<div class="t" style="left:156.51px;top:642.01px;font-size:10.5px;line-height:10.5px;color:#262626;letter-spacing:0.42px;width:72.00px;text-align:center;">17</div>
<div class="t" style="left:229.51px;top:642.01px;font-size:10.5px;line-height:10.5px;color:#262626;letter-spacing:0.42px;width:72.00px;text-align:center;">221</div>
<div class="t" style="left:12.50px;top:659.01px;font-size:10.5px;line-height:10.5px;color:#262626;letter-spacing:0.42px;">VE9CF</div>
<div class="t" style="left:83.51px;top:659.01px;font-size:10.5px;line-height:10.5px;color:#262626;letter-spacing:0.42px;width:72.00px;text-align:center;">3 524</div>
<div class="t" style="left:156.51px;top:659.01px;font-size:10.5px;line-height:10.5px;color:#262626;letter-spacing:0.42px;width:72.00px;text-align:center;">26</div>
<div class="t" style="left:229.51px;top:659.01px;font-size:10.5px;line-height:10.5px;color:#262626;letter-spacing:0.42px;width:72.00px;text-align:center;">136</div>
<div class="t" style="left:12.50px;top:676.01px;font-size:10.5px;line-height:10.5px;color:#262626;letter-spacing:0.42px;">OH4KZM</div>
<div class="t" style="left:83.51px;top:676.01px;font-size:10.5px;line-height:10.5px;color:#262626;letter-spacing:0.42px;width:72.00px;text-align:center;">3 098</div>
<div class="t" style="left:156.51px;top:676.01px;font-size:10.5px;line-height:10.5px;color:#262626;letter-spacing:0.42px;width:72.00px;text-align:center;">33</div>
<div class="t" style="left:229.51px;top:676.01px;font-size:10.5px;line-height:10.5px;color:#262626;letter-spacing:0.42px;width:72.00px;text-align:center;">94</div>
<div class="t" style="left:12.50px;top:693.01px;font-size:10.5px;line-height:10.5px;color:#262626;letter-spacing:0.42px;">VK3PF</div>
<div class="t" style="left:83.51px;top:693.01px;font-size:10.5px;line-height:10.5px;color:#262626;letter-spacing:0.42px;width:72.00px;text-align:center;">3 096</div>
<div class="t" style="left:156.51px;top:693.01px;font-size:10.5px;line-height:10.5px;color:#262626;letter-spacing:0.42px;width:72.00px;text-align:center;">39</div>
<div class="t" style="left:229.51px;top:693.01px;font-size:10.5px;line-height:10.5px;color:#262626;letter-spacing:0.42px;width:72.00px;text-align:center;">79</div>
<div class="t" style="left:12.50px;top:710.01px;font-size:10.5px;line-height:10.5px;color:#262626;letter-spacing:0.42px;">JF7RJM</div>
<div class="t" style="left:83.51px;top:710.01px;font-size:10.5px;line-height:10.5px;color:#262626;letter-spacing:0.42px;width:72.00px;text-align:center;">2 637</div>
<div class="t" style="left:156.51px;top:710.01px;font-size:10.5px;line-height:10.5px;color:#262626;letter-spacing:0.42px;width:72.00px;text-align:center;">11</div>
<div class="t" style="left:229.51px;top:710.01px;font-size:10.5px;line-height:10.5px;color:#262626;letter-spacing:0.42px;width:72.00px;text-align:center;">240</div>
<div class="t" style="left:12.50px;top:727.01px;font-size:10.5px;line-height:10.5px;color:#262626;letter-spacing:0.42px;">VE9CZ</div>
<div class="t" style="left:83.51px;top:727.01px;font-size:10.5px;line-height:10.5px;color:#262626;letter-spacing:0.42px;width:72.00px;text-align:center;">2 632</div>
<div class="t" style="left:156.51px;top:727.01px;font-size:10.5px;line-height:10.5px;color:#262626;letter-spacing:0.42px;width:72.00px;text-align:center;">23</div>
<div class="t" style="left:229.51px;top:727.01px;font-size:10.5px;line-height:10.5px;color:#262626;letter-spacing:0.42px;width:72.00px;text-align:center;">114</div>
<div class="t" style="left:12.50px;top:744.01px;font-size:10.5px;line-height:10.5px;color:#262626;letter-spacing:0.42px;">F5NLX</div>
<div class="t" style="left:83.51px;top:744.01px;font-size:10.5px;line-height:10.5px;color:#262626;letter-spacing:0.42px;width:72.00px;text-align:center;">2 589</div>
<div class="t" style="left:156.51px;top:744.01px;font-size:10.5px;line-height:10.5px;color:#262626;letter-spacing:0.42px;width:72.00px;text-align:center;">10</div>
<div class="t" style="left:229.51px;top:744.01px;font-size:10.5px;line-height:10.5px;color:#262626;letter-spacing:0.42px;width:72.00px;text-align:center;">259</div>
<div class="t" style="left:12.50px;top:761.01px;font-size:10.5px;line-height:10.5px;color:#262626;letter-spacing:0.42px;">N4TRD</div>
<div class="t" style="left:83.51px;top:761.01px;font-size:10.5px;line-height:10.5px;color:#262626;letter-spacing:0.42px;width:72.00px;text-align:center;">2 507</div>
<div class="t" style="left:156.51px;top:761.01px;font-size:10.5px;line-height:10.5px;color:#262626;letter-spacing:0.42px;width:72.00px;text-align:center;">11</div>
<div class="t" style="left:229.51px;top:761.01px;font-size:10.5px;line-height:10.5px;color:#262626;letter-spacing:0.42px;width:72.00px;text-align:center;">228</div>
<div class="t" style="left:12.50px;top:778.01px;font-size:10.5px;line-height:10.5px;color:#262626;letter-spacing:0.42px;">KF0U</div>
<div class="t" style="left:83.51px;top:778.01px;font-size:10.5px;line-height:10.5px;color:#262626;letter-spacing:0.42px;width:72.00px;text-align:center;">2 418</div>
<div class="t" style="left:156.51px;top:778.01px;font-size:10.5px;line-height:10.5px;color:#262626;letter-spacing:0.42px;width:72.00px;text-align:center;">20</div>
<div class="t" style="left:229.51px;top:778.01px;font-size:10.5px;line-height:10.5px;color:#262626;letter-spacing:0.42px;width:72.00px;text-align:center;">121</div>
<div class="t" style="left:12.50px;top:795.01px;font-size:10.5px;line-height:10.5px;color:#262626;letter-spacing:0.42px;">KO4FX</div>
<div class="t" style="left:83.51px;top:795.01px;font-size:10.5px;line-height:10.5px;color:#262626;letter-spacing:0.42px;width:72.00px;text-align:center;">2 415</div>
<div class="t" style="left:156.51px;top:795.01px;font-size:10.5px;line-height:10.5px;color:#262626;letter-spacing:0.42px;width:72.00px;text-align:center;">7</div>
<div class="t" style="left:229.51px;top:795.01px;font-size:10.5px;line-height:10.5px;color:#262626;letter-spacing:0.42px;width:72.00px;text-align:center;">345</div>
<div class="t" style="left:12.50px;top:812.01px;font-size:10.5px;line-height:10.5px;color:#262626;letter-spacing:0.42px;">DL8ECA</div>
<div class="t" style="left:83.51px;top:812.01px;font-size:10.5px;line-height:10.5px;color:#262626;letter-spacing:0.42px;width:72.00px;text-align:center;">2 084</div>
<div class="t" style="left:156.51px;top:812.01px;font-size:10.5px;line-height:10.5px;color:#262626;letter-spacing:0.42px;width:72.00px;text-align:center;">8</div>
<div class="t" style="left:229.51px;top:812.01px;font-size:10.5px;line-height:10.5px;color:#262626;letter-spacing:0.42px;width:72.00px;text-align:center;">261</div>
<div class="t" style="left:12.50px;top:829.01px;font-size:10.5px;line-height:10.5px;color:#262626;letter-spacing:0.42px;">M0KCB</div>
<div class="t" style="left:83.51px;top:829.01px;font-size:10.5px;line-height:10.5px;color:#262626;letter-spacing:0.42px;width:72.00px;text-align:center;">2 012</div>
<div class="t" style="left:156.51px;top:829.01px;font-size:10.5px;line-height:10.5px;color:#262626;letter-spacing:0.42px;width:72.00px;text-align:center;">12</div>
<div class="t" style="left:229.51px;top:829.01px;font-size:10.5px;line-height:10.5px;color:#262626;letter-spacing:0.42px;width:72.00px;text-align:center;">168</div>
<div class="t" style="left:12.50px;top:846.01px;font-size:10.5px;line-height:10.5px;color:#262626;letter-spacing:0.42px;">Z35M</div>
<div class="t" style="left:83.51px;top:846.01px;font-size:10.5px;line-height:10.5px;color:#262626;letter-spacing:0.42px;width:72.00px;text-align:center;">1 996</div>
<div class="t" style="left:156.51px;top:846.01px;font-size:10.5px;line-height:10.5px;color:#262626;letter-spacing:0.42px;width:72.00px;text-align:center;">7</div>
<div class="t" style="left:229.51px;top:846.01px;font-size:10.5px;line-height:10.5px;color:#262626;letter-spacing:0.42px;width:72.00px;text-align:center;">285</div>
<div class="t" style="left:12.50px;top:863.01px;font-size:10.5px;line-height:10.5px;color:#262626;letter-spacing:0.42px;">OH2NOS</div>
<div class="t" style="left:83.51px;top:863.01px;font-size:10.5px;line-height:10.5px;color:#262626;letter-spacing:0.42px;width:72.00px;text-align:center;">1 940</div>
<div class="t" style="left:156.51px;top:863.01px;font-size:10.5px;line-height:10.5px;color:#262626;letter-spacing:0.42px;width:72.00px;text-align:center;">17</div>
<div class="t" style="left:229.51px;top:863.01px;font-size:10.5px;line-height:10.5px;color:#262626;letter-spacing:0.42px;width:72.00px;text-align:center;">114</div>
<div class="t" style="left:12.50px;top:880.01px;font-size:10.5px;line-height:10.5px;color:#262626;letter-spacing:0.42px;">SP5DU</div>
<div class="t" style="left:83.51px;top:880.01px;font-size:10.5px;line-height:10.5px;color:#262626;letter-spacing:0.42px;width:72.00px;text-align:center;">1 831</div>
<div class="t" style="left:156.51px;top:880.01px;font-size:10.5px;line-height:10.5px;color:#262626;letter-spacing:0.42px;width:72.00px;text-align:center;">12</div>
<div class="t" style="left:229.51px;top:880.01px;font-size:10.5px;line-height:10.5px;color:#262626;letter-spacing:0.42px;width:72.00px;text-align:center;">153</div>
<div class="t" style="left:12.50px;top:897.01px;font-size:10.5px;line-height:10.5px;color:#262626;letter-spacing:0.42px;">S55G</div>
<div class="t" style="left:83.51px;top:897.01px;font-size:10.5px;line-height:10.5px;color:#262626;letter-spacing:0.42px;width:72.00px;text-align:center;">1 828</div>
<div class="t" style="left:156.51px;top:897.01px;font-size:10.5px;line-height:10.5px;color:#262626;letter-spacing:0.42px;width:72.00px;text-align:center;">9</div>
<div class="t" style="left:229.51px;top:897.01px;font-size:10.5px;line-height:10.5px;color:#262626;letter-spacing:0.42px;width:72.00px;text-align:center;">203</div>
<div class="t" style="left:12.50px;top:914.01px;font-size:10.5px;line-height:10.5px;color:#262626;letter-spacing:0.42px;">KG5OWB</div>
<div class="t" style="left:83.51px;top:914.01px;font-size:10.5px;line-height:10.5px;color:#262626;letter-spacing:0.42px;width:72.00px;text-align:center;">1 769</div>
<div class="t" style="left:156.51px;top:914.01px;font-size:10.5px;line-height:10.5px;color:#262626;letter-spacing:0.42px;width:72.00px;text-align:center;">16</div>
<div class="t" style="left:229.51px;top:914.01px;font-size:10.5px;line-height:10.5px;color:#262626;letter-spacing:0.42px;width:72.00px;text-align:center;">111</div>
<div class="t" style="left:12.23px;top:552.15px;font-size:14px;line-height:14px;color:#000;font-weight:bold;transform:scaleX(1.067526022364732);transform-origin:left top;-webkit-text-stroke:0.35px #000;">Activators: Top 20</div>
<div class="r" style="left:338px;top:568px;width:220px;height:19px;background:#d8e8f6;"></div>
<div class="r" style="left:338px;top:586px;width:220px;height:18px;background:#d8e8f6;"></div>
<div class="r" style="left:338px;top:603px;width:220px;height:18px;background:#d8e8f6;"></div>
<div class="r" style="left:338px;top:620px;width:220px;height:18px;background:#d8e8f6;"></div>
<div class="r" style="left:338px;top:637px;width:220px;height:18px;background:#d8e8f6;"></div>
<div class="r" style="left:338px;top:654px;width:220px;height:18px;background:#d8e8f6;"></div>
<div class="r" style="left:338px;top:671px;width:220px;height:18px;background:#d8e8f6;"></div>
<div class="r" style="left:338px;top:688px;width:220px;height:18px;background:#d8e8f6;"></div>
<div class="r" style="left:338px;top:705px;width:220px;height:18px;background:#d8e8f6;"></div>
<div class="r" style="left:338px;top:722px;width:220px;height:18px;background:#d8e8f6;"></div>
<div class="r" style="left:338px;top:739px;width:220px;height:18px;background:#d8e8f6;"></div>
<div class="r" style="left:338px;top:756px;width:220px;height:18px;background:#d8e8f6;"></div>
<div class="r" style="left:338px;top:773px;width:220px;height:18px;background:#d8e8f6;"></div>
<div class="r" style="left:338px;top:790px;width:220px;height:18px;background:#d8e8f6;"></div>
<div class="r" style="left:338px;top:807px;width:220px;height:18px;background:#d8e8f6;"></div>
<div class="r" style="left:338px;top:824px;width:220px;height:18px;background:#d8e8f6;"></div>
<div class="r" style="left:338px;top:841px;width:220px;height:18px;background:#d8e8f6;"></div>
<div class="r" style="left:338px;top:858px;width:220px;height:18px;background:#d8e8f6;"></div>
<div class="r" style="left:338px;top:875px;width:220px;height:18px;background:#d8e8f6;"></div>
<div class="r" style="left:338px;top:892px;width:220px;height:18px;background:#d8e8f6;"></div>
<div class="r" style="left:338px;top:909px;width:220px;height:18px;background:#d8e8f6;"></div>
<div class="r" style="left:338px;top:568px;width:220px;height:1px;background:#000;"></div>
<div class="r" style="left:338px;top:586px;width:220px;height:1px;background:#000;"></div>
<div class="r" style="left:338px;top:603px;width:220px;height:1px;background:#000;"></div>
<div class="r" style="left:338px;top:620px;width:220px;height:1px;background:#000;"></div>
<div class="r" style="left:338px;top:637px;width:220px;height:1px;background:#000;"></div>
<div class="r" style="left:338px;top:654px;width:220px;height:1px;background:#000;"></div>
<div class="r" style="left:338px;top:671px;width:220px;height:1px;background:#000;"></div>
<div class="r" style="left:338px;top:688px;width:220px;height:1px;background:#000;"></div>
<div class="r" style="left:338px;top:705px;width:220px;height:1px;background:#000;"></div>
<div class="r" style="left:338px;top:722px;width:220px;height:1px;background:#000;"></div>
<div class="r" style="left:338px;top:739px;width:220px;height:1px;background:#000;"></div>
<div class="r" style="left:338px;top:756px;width:220px;height:1px;background:#000;"></div>
<div class="r" style="left:338px;top:773px;width:220px;height:1px;background:#000;"></div>
<div class="r" style="left:338px;top:790px;width:220px;height:1px;background:#000;"></div>
<div class="r" style="left:338px;top:807px;width:220px;height:1px;background:#000;"></div>
<div class="r" style="left:338px;top:824px;width:220px;height:1px;background:#000;"></div>
<div class="r" style="left:338px;top:841px;width:220px;height:1px;background:#000;"></div>
<div class="r" style="left:338px;top:858px;width:220px;height:1px;background:#000;"></div>
<div class="r" style="left:338px;top:875px;width:220px;height:1px;background:#000;"></div>
<div class="r" style="left:338px;top:892px;width:220px;height:1px;background:#000;"></div>
<div class="r" style="left:338px;top:909px;width:220px;height:1px;background:#000;"></div>
<div class="r" style="left:338px;top:926px;width:220px;height:1px;background:#000;"></div>
<div class="r" style="left:338px;top:568px;width:1px;height:359px;background:#000;"></div>
<div class="r" style="left:411px;top:568px;width:1px;height:359px;background:#000;"></div>
<div class="r" style="left:484px;top:568px;width:1px;height:359px;background:#000;"></div>
<div class="r" style="left:557px;top:568px;width:1px;height:359px;background:#000;"></div>
<div class="t" style="left:341.50px;top:571.76px;font-size:12.8px;line-height:12.8px;color:#000;font-weight:bold;letter-spacing:0.6px;-webkit-text-stroke:0.25px #000;">Activator</div>
<div class="t" style="left:412.45px;top:571.76px;font-size:12.8px;line-height:12.8px;color:#000;font-weight:bold;letter-spacing:0.3px;width:72.00px;text-align:center;-webkit-text-stroke:0.25px #000;">Cfm P2P Q</div>
<div class="t" style="left:485.60px;top:571.76px;font-size:12.8px;line-height:12.8px;color:#000;font-weight:bold;letter-spacing:0.6px;width:72.00px;text-align:center;-webkit-text-stroke:0.25px #000;">Tot. QSOs</div>
<div class="t" style="left:341.50px;top:591.01px;font-size:10.5px;line-height:10.5px;color:#262626;letter-spacing:0.42px;">VK2IO</div>
<div class="t" style="left:412.51px;top:591.01px;font-size:10.5px;line-height:10.5px;color:#262626;letter-spacing:0.42px;width:72.00px;text-align:center;">442</div>
<div class="t" style="left:485.51px;top:591.01px;font-size:10.5px;line-height:10.5px;color:#262626;letter-spacing:0.42px;width:72.00px;text-align:center;">3 844</div>
<div class="t" style="left:341.50px;top:608.01px;font-size:10.5px;line-height:10.5px;color:#262626;letter-spacing:0.42px;">VK3PF</div>
<div class="t" style="left:412.51px;top:608.01px;font-size:10.5px;line-height:10.5px;color:#262626;letter-spacing:0.42px;width:72.00px;text-align:center;">240</div>
<div class="t" style="left:485.51px;top:608.01px;font-size:10.5px;line-height:10.5px;color:#262626;letter-spacing:0.42px;width:72.00px;text-align:center;">3 096</div>
<div class="t" style="left:341.50px;top:625.01px;font-size:10.5px;line-height:10.5px;color:#262626;letter-spacing:0.42px;">VK2XWB</div>
<div class="t" style="left:412.51px;top:625.01px;font-size:10.5px;line-height:10.5px;color:#262626;letter-spacing:0.42px;width:72.00px;text-align:center;">125</div>
<div class="t" style="left:485.51px;top:625.01px;font-size:10.5px;line-height:10.5px;color:#262626;letter-spacing:0.42px;width:72.00px;text-align:center;">1 465</div>
<div class="t" style="left:341.50px;top:642.01px;font-size:10.5px;line-height:10.5px;color:#262626;letter-spacing:0.42px;">VK5MAZ</div>
<div class="t" style="left:412.51px;top:642.01px;font-size:10.5px;line-height:10.5px;color:#262626;letter-spacing:0.42px;width:72.00px;text-align:center;">103</div>
<div class="t" style="left:485.51px;top:642.01px;font-size:10.5px;line-height:10.5px;color:#262626;letter-spacing:0.42px;width:72.00px;text-align:center;">785</div>
<div class="t" style="left:341.50px;top:659.01px;font-size:10.5px;line-height:10.5px;color:#262626;letter-spacing:0.42px;">VK3TDK</div>
<div class="t" style="left:412.51px;top:659.01px;font-size:10.5px;line-height:10.5px;color:#262626;letter-spacing:0.42px;width:72.00px;text-align:center;">98</div>
<div class="t" style="left:485.51px;top:659.01px;font-size:10.5px;line-height:10.5px;color:#262626;letter-spacing:0.42px;width:72.00px;text-align:center;">850</div>
<div class="t" style="left:341.50px;top:676.01px;font-size:10.5px;line-height:10.5px;color:#262626;letter-spacing:0.42px;">DK0NL</div>
<div class="t" style="left:412.51px;top:676.01px;font-size:10.5px;line-height:10.5px;color:#262626;letter-spacing:0.42px;width:72.00px;text-align:center;">83</div>
<div class="t" style="left:485.51px;top:676.01px;font-size:10.5px;line-height:10.5px;color:#262626;letter-spacing:0.42px;width:72.00px;text-align:center;">129</div>
<div class="t" style="left:341.50px;top:693.01px;font-size:10.5px;line-height:10.5px;color:#262626;letter-spacing:0.42px;">DK3RV</div>
<div class="t" style="left:412.51px;top:693.01px;font-size:10.5px;line-height:10.5px;color:#262626;letter-spacing:0.42px;width:72.00px;text-align:center;">79</div>
<div class="t" style="left:485.51px;top:693.01px;font-size:10.5px;line-height:10.5px;color:#262626;letter-spacing:0.42px;width:72.00px;text-align:center;">138</div>
<div class="t" style="left:341.50px;top:710.01px;font-size:10.5px;line-height:10.5px;color:#262626;letter-spacing:0.42px;">VK3ZPF</div>
<div class="t" style="left:412.51px;top:710.01px;font-size:10.5px;line-height:10.5px;color:#262626;letter-spacing:0.42px;width:72.00px;text-align:center;">74</div>
<div class="t" style="left:485.51px;top:710.01px;font-size:10.5px;line-height:10.5px;color:#262626;letter-spacing:0.42px;width:72.00px;text-align:center;">547</div>
<div class="t" style="left:341.50px;top:727.01px;font-size:10.5px;line-height:10.5px;color:#262626;letter-spacing:0.42px;">VK3YV</div>
<div class="t" style="left:412.51px;top:727.01px;font-size:10.5px;line-height:10.5px;color:#262626;letter-spacing:0.42px;width:72.00px;text-align:center;">72</div>
<div class="t" style="left:485.51px;top:727.01px;font-size:10.5px;line-height:10.5px;color:#262626;letter-spacing:0.42px;width:72.00px;text-align:center;">875</div>
<div class="t" style="left:341.50px;top:744.01px;font-size:10.5px;line-height:10.5px;color:#262626;letter-spacing:0.42px;">VK1AO</div>
<div class="t" style="left:412.51px;top:744.01px;font-size:10.5px;line-height:10.5px;color:#262626;letter-spacing:0.42px;width:72.00px;text-align:center;">70</div>
<div class="t" style="left:485.51px;top:744.01px;font-size:10.5px;line-height:10.5px;color:#262626;letter-spacing:0.42px;width:72.00px;text-align:center;">1 636</div>
<div class="t" style="left:341.50px;top:761.01px;font-size:10.5px;line-height:10.5px;color:#262626;letter-spacing:0.42px;">F6EOC</div>
<div class="t" style="left:412.51px;top:761.01px;font-size:10.5px;line-height:10.5px;color:#262626;letter-spacing:0.42px;width:72.00px;text-align:center;">64</div>
<div class="t" style="left:485.51px;top:761.01px;font-size:10.5px;line-height:10.5px;color:#262626;letter-spacing:0.42px;width:72.00px;text-align:center;">415</div>
<div class="t" style="left:341.50px;top:778.01px;font-size:10.5px;line-height:10.5px;color:#262626;letter-spacing:0.42px;">VK1CHW</div>
<div class="t" style="left:412.51px;top:778.01px;font-size:10.5px;line-height:10.5px;color:#262626;letter-spacing:0.42px;width:72.00px;text-align:center;">49</div>
<div class="t" style="left:485.51px;top:778.01px;font-size:10.5px;line-height:10.5px;color:#262626;letter-spacing:0.42px;width:72.00px;text-align:center;">332</div>
<div class="t" style="left:341.50px;top:795.01px;font-size:10.5px;line-height:10.5px;color:#262626;letter-spacing:0.42px;">VK2GOM</div>
<div class="t" style="left:412.51px;top:795.01px;font-size:10.5px;line-height:10.5px;color:#262626;letter-spacing:0.42px;width:72.00px;text-align:center;">48</div>
<div class="t" style="left:485.51px;top:795.01px;font-size:10.5px;line-height:10.5px;color:#262626;letter-spacing:0.42px;width:72.00px;text-align:center;">410</div>
<div class="t" style="left:341.50px;top:812.01px;font-size:10.5px;line-height:10.5px;color:#262626;letter-spacing:0.42px;">OH4KZM</div>
<div class="t" style="left:412.51px;top:812.01px;font-size:10.5px;line-height:10.5px;color:#262626;letter-spacing:0.42px;width:72.00px;text-align:center;">47</div>
<div class="t" style="left:485.51px;top:812.01px;font-size:10.5px;line-height:10.5px;color:#262626;letter-spacing:0.42px;width:72.00px;text-align:center;">3 098</div>
<div class="t" style="left:341.50px;top:829.01px;font-size:10.5px;line-height:10.5px;color:#262626;letter-spacing:0.42px;">VK2USH</div>
<div class="t" style="left:412.51px;top:829.01px;font-size:10.5px;line-height:10.5px;color:#262626;letter-spacing:0.42px;width:72.00px;text-align:center;">45</div>
<div class="t" style="left:485.51px;top:829.01px;font-size:10.5px;line-height:10.5px;color:#262626;letter-spacing:0.42px;width:72.00px;text-align:center;">374</div>
<div class="t" style="left:341.50px;top:846.01px;font-size:10.5px;line-height:10.5px;color:#262626;letter-spacing:0.42px;">VK2YK</div>
<div class="t" style="left:412.51px;top:846.01px;font-size:10.5px;line-height:10.5px;color:#262626;letter-spacing:0.42px;width:72.00px;text-align:center;">45</div>
<div class="t" style="left:485.51px;top:846.01px;font-size:10.5px;line-height:10.5px;color:#262626;letter-spacing:0.42px;width:72.00px;text-align:center;">195</div>
<div class="t" style="left:341.50px;top:863.01px;font-size:10.5px;line-height:10.5px;color:#262626;letter-spacing:0.42px;">OH1MM</div>
<div class="t" style="left:412.51px;top:863.01px;font-size:10.5px;line-height:10.5px;color:#262626;letter-spacing:0.42px;width:72.00px;text-align:center;">44</div>
<div class="t" style="left:485.51px;top:863.01px;font-size:10.5px;line-height:10.5px;color:#262626;letter-spacing:0.42px;width:72.00px;text-align:center;">866</div>
<div class="t" style="left:341.50px;top:880.01px;font-size:10.5px;line-height:10.5px;color:#262626;letter-spacing:0.42px;">VK2VIC</div>
<div class="t" style="left:412.51px;top:880.01px;font-size:10.5px;line-height:10.5px;color:#262626;letter-spacing:0.42px;width:72.00px;text-align:center;">42</div>
<div class="t" style="left:485.51px;top:880.01px;font-size:10.5px;line-height:10.5px;color:#262626;letter-spacing:0.42px;width:72.00px;text-align:center;">346</div>
<div class="t" style="left:341.50px;top:897.01px;font-size:10.5px;line-height:10.5px;color:#262626;letter-spacing:0.42px;">VK1OZ</div>
<div class="t" style="left:412.51px;top:897.01px;font-size:10.5px;line-height:10.5px;color:#262626;letter-spacing:0.42px;width:72.00px;text-align:center;">41</div>
<div class="t" style="left:485.51px;top:897.01px;font-size:10.5px;line-height:10.5px;color:#262626;letter-spacing:0.42px;width:72.00px;text-align:center;">501</div>
<div class="t" style="left:341.50px;top:914.01px;font-size:10.5px;line-height:10.5px;color:#262626;letter-spacing:0.42px;">HB9DDZ</div>
<div class="t" style="left:412.51px;top:914.01px;font-size:10.5px;line-height:10.5px;color:#262626;letter-spacing:0.42px;width:72.00px;text-align:center;">38</div>
<div class="t" style="left:485.51px;top:914.01px;font-size:10.5px;line-height:10.5px;color:#262626;letter-spacing:0.42px;width:72.00px;text-align:center;">44</div>
<div class="t" style="left:341.40px;top:551.95px;font-size:14px;line-height:14px;color:#000;font-weight:bold;transform:scaleX(1.0507753504923614);transform-origin:left top;-webkit-text-stroke:0.35px #000;">Confirmed P2P QSOs: Top 20</div>
<div class="t" style="left:608.72px;top:56.60px;font-size:18.9px;line-height:18.9px;color:#000;font-weight:bold;transform:scaleX(1.0113776965162355);transform-origin:left top;-webkit-text-stroke:0.35px #000;">QSOs per band</div>
<div class="r" style="left:590px;top:388px;width:577px;height:2px;background:#28536e;"></div>
<div class="t" style="left:607.22px;top:402.60px;font-size:18.9px;line-height:18.9px;color:#000;font-weight:bold;transform:scaleX(1.0111883147644047);transform-origin:left top;-webkit-text-stroke:0.35px #000;">QSOs per mode</div>
<div class="r" style="left:590px;top:709px;width:577px;height:2px;background:#28536e;"></div>
<div class="r" style="left:663px;top:722px;width:446px;height:18px;background:#c2edca;"></div>
<div class="r" style="left:663px;top:739px;width:446px;height:18px;background:#c2edca;"></div>
<div class="r" style="left:663px;top:756px;width:446px;height:18px;background:#c2edca;"></div>
<div class="r" style="left:663px;top:773px;width:446px;height:18px;background:#c2edca;"></div>
<div class="r" style="left:663px;top:790px;width:446px;height:18px;background:#c2edca;"></div>
<div class="r" style="left:663px;top:807px;width:446px;height:18px;background:#c2edca;"></div>
<div class="r" style="left:663px;top:824px;width:446px;height:18px;background:#c2edca;"></div>
<div class="r" style="left:663px;top:841px;width:446px;height:18px;background:#c2edca;"></div>
<div class="r" style="left:663px;top:858px;width:446px;height:18px;background:#c2edca;"></div>
<div class="r" style="left:663px;top:875px;width:446px;height:18px;background:#c2edca;"></div>
<div class="r" style="left:663px;top:892px;width:446px;height:18px;background:#c2edca;"></div>
<div class="r" style="left:663px;top:909px;width:392px;height:18px;background:#c2edca;"></div>
<div class="r" style="left:663px;top:722px;width:446px;height:1px;background:#000;"></div>
<div class="r" style="left:663px;top:739px;width:446px;height:1px;background:#000;"></div>
<div class="r" style="left:663px;top:756px;width:446px;height:1px;background:#000;"></div>
<div class="r" style="left:663px;top:773px;width:446px;height:1px;background:#000;"></div>
<div class="r" style="left:663px;top:790px;width:446px;height:1px;background:#000;"></div>
<div class="r" style="left:663px;top:807px;width:446px;height:1px;background:#000;"></div>
<div class="r" style="left:663px;top:824px;width:446px;height:1px;background:#000;"></div>
<div class="r" style="left:663px;top:841px;width:446px;height:1px;background:#000;"></div>
<div class="r" style="left:663px;top:858px;width:446px;height:1px;background:#000;"></div>
<div class="r" style="left:663px;top:875px;width:446px;height:1px;background:#000;"></div>
<div class="r" style="left:663px;top:892px;width:446px;height:1px;background:#000;"></div>
<div class="r" style="left:663px;top:909px;width:446px;height:1px;background:#000;"></div>
<div class="r" style="left:663px;top:926px;width:392px;height:1px;background:#000;"></div>
<div class="r" style="left:663px;top:722px;width:1px;height:205px;background:#000;"></div>
<div class="r" style="left:762px;top:722px;width:1px;height:205px;background:#000;"></div>
<div class="r" style="left:835px;top:722px;width:1px;height:205px;background:#000;"></div>
<div class="r" style="left:908px;top:722px;width:1px;height:205px;background:#000;"></div>
<div class="r" style="left:981px;top:722px;width:1px;height:205px;background:#000;"></div>
<div class="r" style="left:1054px;top:722px;width:1px;height:205px;background:#000;"></div>
<div class="r" style="left:1108px;top:722px;width:1px;height:188px;background:#000;"></div>
<div class="t" style="left:666.00px;top:726.81px;font-size:10.5px;line-height:10.5px;color:#000;font-weight:bold;letter-spacing:0.7px;-webkit-text-stroke:0.25px #000;">QSO breakdown</div>
<div class="t" style="left:763.65px;top:726.81px;font-size:10.5px;line-height:10.5px;color:#000;font-weight:bold;letter-spacing:0.7px;width:72.00px;text-align:center;-webkit-text-stroke:0.25px #000;">Phone</div>
<div class="t" style="left:836.65px;top:726.81px;font-size:10.5px;line-height:10.5px;color:#000;font-weight:bold;letter-spacing:0.7px;width:72.00px;text-align:center;-webkit-text-stroke:0.25px #000;">CW</div>
<div class="t" style="left:909.65px;top:726.81px;font-size:10.5px;line-height:10.5px;color:#000;font-weight:bold;letter-spacing:0.7px;width:72.00px;text-align:center;-webkit-text-stroke:0.25px #000;">DATA</div>
<div class="t" style="left:982.65px;top:726.81px;font-size:10.5px;line-height:10.5px;color:#000;font-weight:bold;letter-spacing:0.7px;width:72.00px;text-align:center;-webkit-text-stroke:0.25px #000;">Total</div>
<div class="t" style="left:1055.65px;top:726.81px;font-size:10.5px;line-height:10.5px;color:#000;font-weight:bold;letter-spacing:0.7px;width:53.00px;text-align:center;-webkit-text-stroke:0.25px #000;">Pct</div>
<div class="t" style="left:666.00px;top:743.81px;font-size:10.5px;line-height:10.5px;color:#262626;letter-spacing:0.5px;">80m</div>
<div class="t" style="left:763.55px;top:743.81px;font-size:10.5px;line-height:10.5px;color:#262626;letter-spacing:0.5px;width:72.00px;text-align:center;">4 926</div>
<div class="t" style="left:836.55px;top:743.81px;font-size:10.5px;line-height:10.5px;color:#262626;letter-spacing:0.5px;width:72.00px;text-align:center;">2 312</div>
<div class="t" style="left:909.55px;top:743.81px;font-size:10.5px;line-height:10.5px;color:#262626;letter-spacing:0.5px;width:72.00px;text-align:center;">442</div>
<div class="t" style="left:982.55px;top:743.81px;font-size:10.5px;line-height:10.5px;color:#262626;letter-spacing:0.5px;width:72.00px;text-align:center;">7 680</div>
<div class="t" style="left:1055.55px;top:743.81px;font-size:10.5px;line-height:10.5px;color:#262626;letter-spacing:0.5px;width:53.00px;text-align:center;">4,6 %</div>
<div class="t" style="left:666.00px;top:760.81px;font-size:10.5px;line-height:10.5px;color:#262626;letter-spacing:0.5px;">40m</div>
<div class="t" style="left:763.55px;top:760.81px;font-size:10.5px;line-height:10.5px;color:#262626;letter-spacing:0.5px;width:72.00px;text-align:center;">43 599</div>
<div class="t" style="left:836.55px;top:760.81px;font-size:10.5px;line-height:10.5px;color:#262626;letter-spacing:0.5px;width:72.00px;text-align:center;">14 221</div>
<div class="t" style="left:909.55px;top:760.81px;font-size:10.5px;line-height:10.5px;color:#262626;letter-spacing:0.5px;width:72.00px;text-align:center;">4 456</div>
<div class="t" style="left:982.55px;top:760.81px;font-size:10.5px;line-height:10.5px;color:#262626;letter-spacing:0.5px;width:72.00px;text-align:center;">62 276</div>
<div class="t" style="left:1055.55px;top:760.81px;font-size:10.5px;line-height:10.5px;color:#262626;letter-spacing:0.5px;width:53.00px;text-align:center;">37,1 %</div>
<div class="t" style="left:666.00px;top:777.81px;font-size:10.5px;line-height:10.5px;color:#262626;letter-spacing:0.5px;">30m</div>
<div class="t" style="left:763.55px;top:777.81px;font-size:10.5px;line-height:10.5px;color:#262626;letter-spacing:0.5px;width:72.00px;text-align:center;">1 774</div>
<div class="t" style="left:836.55px;top:777.81px;font-size:10.5px;line-height:10.5px;color:#262626;letter-spacing:0.5px;width:72.00px;text-align:center;">5 034</div>
<div class="t" style="left:909.55px;top:777.81px;font-size:10.5px;line-height:10.5px;color:#262626;letter-spacing:0.5px;width:72.00px;text-align:center;">1 385</div>
<div class="t" style="left:982.55px;top:777.81px;font-size:10.5px;line-height:10.5px;color:#262626;letter-spacing:0.5px;width:72.00px;text-align:center;">8 193</div>
<div class="t" style="left:1055.55px;top:777.81px;font-size:10.5px;line-height:10.5px;color:#262626;letter-spacing:0.5px;width:53.00px;text-align:center;">4,9 %</div>
<div class="t" style="left:666.00px;top:794.81px;font-size:10.5px;line-height:10.5px;color:#262626;letter-spacing:0.5px;">20m</div>
<div class="t" style="left:763.55px;top:794.81px;font-size:10.5px;line-height:10.5px;color:#262626;letter-spacing:0.5px;width:72.00px;text-align:center;">26 592</div>
<div class="t" style="left:836.55px;top:794.81px;font-size:10.5px;line-height:10.5px;color:#262626;letter-spacing:0.5px;width:72.00px;text-align:center;">17 224</div>
<div class="t" style="left:909.55px;top:794.81px;font-size:10.5px;line-height:10.5px;color:#262626;letter-spacing:0.5px;width:72.00px;text-align:center;">7 280</div>
<div class="t" style="left:982.55px;top:794.81px;font-size:10.5px;line-height:10.5px;color:#262626;letter-spacing:0.5px;width:72.00px;text-align:center;">51 096</div>
<div class="t" style="left:1055.55px;top:794.81px;font-size:10.5px;line-height:10.5px;color:#262626;letter-spacing:0.5px;width:53.00px;text-align:center;">30,4 %</div>
<div class="t" style="left:666.00px;top:811.81px;font-size:10.5px;line-height:10.5px;color:#262626;letter-spacing:0.5px;">17m</div>
<div class="t" style="left:763.55px;top:811.81px;font-size:10.5px;line-height:10.5px;color:#262626;letter-spacing:0.5px;width:72.00px;text-align:center;">1 387</div>
<div class="t" style="left:836.55px;top:811.81px;font-size:10.5px;line-height:10.5px;color:#262626;letter-spacing:0.5px;width:72.00px;text-align:center;">2 837</div>
<div class="t" style="left:909.55px;top:811.81px;font-size:10.5px;line-height:10.5px;color:#262626;letter-spacing:0.5px;width:72.00px;text-align:center;">2 094</div>
<div class="t" style="left:982.55px;top:811.81px;font-size:10.5px;line-height:10.5px;color:#262626;letter-spacing:0.5px;width:72.00px;text-align:center;">6 318</div>
<div class="t" style="left:1055.55px;top:811.81px;font-size:10.5px;line-height:10.5px;color:#262626;letter-spacing:0.5px;width:53.00px;text-align:center;">3,8 %</div>
<div class="t" style="left:666.00px;top:828.81px;font-size:10.5px;line-height:10.5px;color:#262626;letter-spacing:0.5px;">15m</div>
<div class="t" style="left:763.55px;top:828.81px;font-size:10.5px;line-height:10.5px;color:#262626;letter-spacing:0.5px;width:72.00px;text-align:center;">7 831</div>
<div class="t" style="left:836.55px;top:828.81px;font-size:10.5px;line-height:10.5px;color:#262626;letter-spacing:0.5px;width:72.00px;text-align:center;">4 113</div>
<div class="t" style="left:909.55px;top:828.81px;font-size:10.5px;line-height:10.5px;color:#262626;letter-spacing:0.5px;width:72.00px;text-align:center;">2 396</div>
<div class="t" style="left:982.55px;top:828.81px;font-size:10.5px;line-height:10.5px;color:#262626;letter-spacing:0.5px;width:72.00px;text-align:center;">14 340</div>
<div class="t" style="left:1055.55px;top:828.81px;font-size:10.5px;line-height:10.5px;color:#262626;letter-spacing:0.5px;width:53.00px;text-align:center;">8,5 %</div>
<div class="t" style="left:666.00px;top:845.81px;font-size:10.5px;line-height:10.5px;color:#262626;letter-spacing:0.5px;">12m</div>
<div class="t" style="left:763.55px;top:845.81px;font-size:10.5px;line-height:10.5px;color:#262626;letter-spacing:0.5px;width:72.00px;text-align:center;">1 513</div>
<div class="t" style="left:836.55px;top:845.81px;font-size:10.5px;line-height:10.5px;color:#262626;letter-spacing:0.5px;width:72.00px;text-align:center;">745</div>
<div class="t" style="left:909.55px;top:845.81px;font-size:10.5px;line-height:10.5px;color:#262626;letter-spacing:0.5px;width:72.00px;text-align:center;">1 489</div>
<div class="t" style="left:982.55px;top:845.81px;font-size:10.5px;line-height:10.5px;color:#262626;letter-spacing:0.5px;width:72.00px;text-align:center;">3 747</div>
<div class="t" style="left:1055.55px;top:845.81px;font-size:10.5px;line-height:10.5px;color:#262626;letter-spacing:0.5px;width:53.00px;text-align:center;">2,2 %</div>
<div class="t" style="left:666.00px;top:862.81px;font-size:10.5px;line-height:10.5px;color:#262626;letter-spacing:0.5px;">10m</div>
<div class="t" style="left:763.55px;top:862.81px;font-size:10.5px;line-height:10.5px;color:#262626;letter-spacing:0.5px;width:72.00px;text-align:center;">7 330</div>
<div class="t" style="left:836.55px;top:862.81px;font-size:10.5px;line-height:10.5px;color:#262626;letter-spacing:0.5px;width:72.00px;text-align:center;">982</div>
<div class="t" style="left:909.55px;top:862.81px;font-size:10.5px;line-height:10.5px;color:#262626;letter-spacing:0.5px;width:72.00px;text-align:center;">1 791</div>
<div class="t" style="left:982.55px;top:862.81px;font-size:10.5px;line-height:10.5px;color:#262626;letter-spacing:0.5px;width:72.00px;text-align:center;">10 103</div>
<div class="t" style="left:1055.55px;top:862.81px;font-size:10.5px;line-height:10.5px;color:#262626;letter-spacing:0.5px;width:53.00px;text-align:center;">6,0 %</div>
<div class="t" style="left:666.00px;top:879.81px;font-size:10.5px;line-height:10.5px;color:#262626;letter-spacing:0.5px;">Others</div>
<div class="t" style="left:763.55px;top:879.81px;font-size:10.5px;line-height:10.5px;color:#262626;letter-spacing:0.5px;width:72.00px;text-align:center;">2 646</div>
<div class="t" style="left:836.55px;top:879.81px;font-size:10.5px;line-height:10.5px;color:#262626;letter-spacing:0.5px;width:72.00px;text-align:center;">835</div>
<div class="t" style="left:909.55px;top:879.81px;font-size:10.5px;line-height:10.5px;color:#262626;letter-spacing:0.5px;width:72.00px;text-align:center;">736</div>
<div class="t" style="left:982.55px;top:879.81px;font-size:10.5px;line-height:10.5px;color:#262626;letter-spacing:0.5px;width:72.00px;text-align:center;">4 217</div>
<div class="t" style="left:1055.55px;top:879.81px;font-size:10.5px;line-height:10.5px;color:#262626;letter-spacing:0.5px;width:53.00px;text-align:center;">2,5 %</div>
<div class="t" style="left:666.00px;top:896.81px;font-size:10.5px;line-height:10.5px;color:#000;font-weight:bold;letter-spacing:0.5px;-webkit-text-stroke:0.25px #000;">Total</div>
<div class="t" style="left:763.55px;top:896.81px;font-size:10.5px;line-height:10.5px;color:#000;font-weight:bold;letter-spacing:0.5px;width:72.00px;text-align:center;-webkit-text-stroke:0.25px #000;">97 598</div>
<div class="t" style="left:836.55px;top:896.81px;font-size:10.5px;line-height:10.5px;color:#000;font-weight:bold;letter-spacing:0.5px;width:72.00px;text-align:center;-webkit-text-stroke:0.25px #000;">48 303</div>
<div class="t" style="left:909.55px;top:896.81px;font-size:10.5px;line-height:10.5px;color:#000;font-weight:bold;letter-spacing:0.5px;width:72.00px;text-align:center;-webkit-text-stroke:0.25px #000;">22 069</div>
<div class="t" style="left:982.55px;top:896.81px;font-size:10.5px;line-height:10.5px;color:#000;font-weight:bold;letter-spacing:0.5px;width:72.00px;text-align:center;-webkit-text-stroke:0.25px #000;">167 970</div>
<div class="t" style="left:1055.55px;top:896.81px;font-size:10.5px;line-height:10.5px;color:#262626;letter-spacing:0.5px;width:53.00px;text-align:center;">100,0 %</div>
<div class="t" style="left:666.00px;top:913.81px;font-size:10.5px;line-height:10.5px;color:#262626;letter-spacing:0.5px;">Pct</div>
<div class="t" style="left:763.55px;top:913.81px;font-size:10.5px;line-height:10.5px;color:#262626;letter-spacing:0.5px;width:72.00px;text-align:center;">58,1 %</div>
<div class="t" style="left:836.55px;top:913.81px;font-size:10.5px;line-height:10.5px;color:#262626;letter-spacing:0.5px;width:72.00px;text-align:center;">28,8 %</div>
<div class="t" style="left:909.55px;top:913.81px;font-size:10.5px;line-height:10.5px;color:#262626;letter-spacing:0.5px;width:72.00px;text-align:center;">13,1 %</div>
<div class="t" style="left:982.55px;top:913.81px;font-size:10.5px;line-height:10.5px;color:#262626;letter-spacing:0.5px;width:72.00px;text-align:center;">100,0 %</div>
<svg class="pies" width="1167" height="932" viewBox="0 0 1167 932"><defs><filter id="shb" x="-20%" y="-20%" width="140%" height="140%"><feGaussianBlur stdDeviation="4"/></filter><linearGradient id="wb_0" gradientUnits="userSpaceOnUse" x1="672.5" y1="0" x2="1099.5" y2="0"><stop offset="0" stop-color="#135675"/><stop offset="0.157" stop-color="#114d68"/><stop offset="0.274" stop-color="#0e4158"/><stop offset="0.415" stop-color="#0d3a4e"/><stop offset="0.578" stop-color="#0b3345"/><stop offset="0.742" stop-color="#0a2d3d"/><stop offset="1" stop-color="#092a39"/></linearGradient><linearGradient id="wb_1" gradientUnits="userSpaceOnUse" x1="672.5" y1="0" x2="1099.5" y2="0"><stop offset="0" stop-color="#cf652a"/><stop offset="0.157" stop-color="#b85a26"/><stop offset="0.274" stop-color="#9c4c20"/><stop offset="0.415" stop-color="#8a431c"/><stop offset="0.578" stop-color="#7a3b19"/><stop offset="0.742" stop-color="#6c3516"/><stop offset="1" stop-color="#653115"/></linearGradient><linearGradient id="wb_2" gradientUnits="userSpaceOnUse" x1="672.5" y1="0" x2="1099.5" y2="0"><stop offset="0" stop-color="#166020"/><stop offset="0.157" stop-color="#14561d"/><stop offset="0.274" stop-color="#114918"/><stop offset="0.415" stop-color="#0f4016"/><stop offset="0.578" stop-color="#0d3913"/><stop offset="0.742" stop-color="#0c3211"/><stop offset="1" stop-color="#0b2f10"/></linearGradient><linearGradient id="bvb_0" gradientUnits="userSpaceOnUse" x1="672.5" y1="0" x2="1099.5" y2="0"><stop offset="0" stop-color="#186c92"/><stop offset="0.4" stop-color="#176a8f"/><stop offset="0.7" stop-color="#156082"/><stop offset="0.9" stop-color="#114d68"/><stop offset="1" stop-color="#0f435b"/></linearGradient><linearGradient id="bvb_1" gradientUnits="userSpaceOnUse" x1="672.5" y1="0" x2="1099.5" y2="0"><stop offset="0" stop-color="#ff7d35"/><stop offset="0.4" stop-color="#fd7b34"/><stop offset="0.7" stop-color="#e6702f"/><stop offset="0.9" stop-color="#b85a26"/><stop offset="1" stop-color="#a14e21"/></linearGradient><linearGradient id="bvb_2" gradientUnits="userSpaceOnUse" x1="672.5" y1="0" x2="1099.5" y2="0"><stop offset="0" stop-color="#1c7828"/><stop offset="0.4" stop-color="#1c7628"/><stop offset="0.7" stop-color="#196b24"/><stop offset="0.9" stop-color="#14561d"/><stop offset="1" stop-color="#124b19"/></linearGradient></defs><polygon points="886.00,174.83 891.91,174.87 897.82,174.99 903.72,175.19 909.61,175.46 915.49,175.82 921.35,176.26 927.19,176.77 933.00,177.36 938.79,178.03 944.54,178.79 950.26,179.62 955.94,180.53 961.57,181.51 967.16,182.58 972.70,183.73 978.18,184.95 983.60,186.26 988.95,187.64 994.24,189.11 999.45,190.65 1004.59,192.27 1009.64,193.96 1014.61,195.74 1019.49,197.59 1024.27,199.52 1028.94,201.53 1033.51,203.62 1037.97,205.78 1042.30,208.01 1046.52,210.32 1050.60,212.71 1054.55,215.17 1058.35,217.70 1062.01,220.30 1065.51,222.97 1068.86,225.71 1072.03,228.52 1075.03,231.39 1077.86,234.33 1080.49,237.33 1082.93,240.40 1085.17,243.52 1087.21,246.69 1089.03,249.92 1090.62,253.20 1091.99,256.53 1093.13,259.90 1094.03,263.32 1094.67,266.77 1095.07,270.25 1095.20,273.77 1095.07,277.32 1094.66,280.88 1093.98,284.46 1093.01,288.06 1091.76,291.66 1090.21,295.26 1088.37,298.86 1086.22,302.45 1083.78,306.03 1081.03,309.58 1077.97,313.11 1074.60,316.60 1070.93,320.04 1066.94,323.44 1062.65,326.79 1058.05,330.07 1053.15,333.28 1047.95,336.41 1042.46,339.47 1036.68,342.42 1030.61,345.28 1024.27,348.04 1017.66,350.68 1010.79,353.20 1003.68,355.59 996.33,357.85 988.75,359.97 980.97,361.95 972.99,363.77 964.83,365.44 956.50,366.94 948.02,368.28 939.41,369.45 930.69,370.45 921.87,371.27 912.97,371.90 904.01,372.36 895.02,372.64 886.00,372.73 876.98,372.64 867.99,372.36 859.03,371.90 850.13,371.27 841.31,370.45 832.59,369.45 823.98,368.28 815.50,366.94 807.17,365.44 799.01,363.77 791.03,361.95 783.25,359.97 775.67,357.85 768.32,355.59 761.21,353.20 754.34,350.68 747.73,348.04 741.39,345.28 735.32,342.42 729.54,339.47 724.05,336.41 718.85,333.28 713.95,330.07 709.35,326.79 705.06,323.44 701.07,320.04 697.40,316.60 694.03,313.11 690.97,309.58 688.22,306.03 685.78,302.45 683.63,298.86 681.79,295.26 680.24,291.66 678.99,288.06 678.02,284.46 677.34,280.88 676.93,277.32 676.80,273.77 676.93,270.25 677.33,266.77 677.97,263.32 678.87,259.90 680.01,256.53 681.38,253.20 682.97,249.92 684.79,246.69 686.83,243.52 689.07,240.40 691.51,237.33 694.14,234.33 696.97,231.39 699.97,228.52 703.14,225.71 706.49,222.97 709.99,220.30 713.65,217.70 717.45,215.17 721.40,212.71 725.48,210.32 729.70,208.01 734.03,205.78 738.49,203.62 743.06,201.53 747.73,199.52 752.51,197.59 757.39,195.74 762.36,193.96 767.41,192.27 772.55,190.65 777.76,189.11 783.05,187.64 788.40,186.26 793.82,184.95 799.30,183.73 804.84,182.58 810.43,181.51 816.06,180.53 821.74,179.62 827.46,178.79 833.21,178.03 839.00,177.36 844.81,176.77 850.65,176.26 856.51,175.82 862.39,175.46 868.28,175.19 874.18,174.99 880.09,174.87 886.00,174.83" fill="#000" opacity="0.22" filter="url(#shb)"/><polygon points="1099.47,225.00 1099.44,226.78 1099.34,228.57 1099.17,230.36 1098.93,232.15 1098.63,233.95 1098.25,235.76 1097.81,237.57 1097.29,239.37 1096.71,241.19 1096.05,243.00 1095.32,244.81 1094.52,246.62 1093.64,248.44 1092.69,250.25 1091.66,252.06 1090.56,253.86 1089.39,255.66 1088.14,257.46 1086.81,259.25 1085.41,261.04 1083.93,262.82 1082.38,264.59 1080.75,266.35 1079.04,268.11 1077.25,269.85 1075.39,271.58 1073.46,273.31 1071.44,275.01 1069.35,276.71 1067.18,278.39 1064.94,280.06 1062.62,281.71 1059.09,326.35 1061.36,324.74 1063.56,323.10 1065.68,321.46 1067.73,319.79 1069.71,318.12 1071.61,316.43 1073.43,314.73 1075.18,313.02 1076.85,311.31 1078.45,309.58 1079.97,307.84 1081.42,306.10 1082.80,304.35 1084.09,302.59 1085.32,300.83 1086.47,299.06 1087.55,297.29 1088.55,295.52 1089.49,293.75 1090.35,291.97 1091.13,290.20 1091.85,288.42 1092.49,286.64 1093.07,284.87 1093.57,283.09 1094.01,281.32 1094.38,279.56 1094.67,277.79 1094.90,276.03 1095.07,274.28 1095.17,272.53 1095.20,270.78" fill="url(#wb_0)" stroke="url(#wb_0)" stroke-width="0.5"/><polygon points="1062.62,281.71 1060.21,283.35 1057.72,284.98 1055.15,286.59 1052.51,288.18 1049.79,289.75 1047.00,291.30 1044.13,292.83 1041.20,294.33 1038.19,295.80 1035.11,297.26 1031.96,298.68 1028.74,300.08 1025.45,301.45 1022.09,302.79 1018.67,304.10 1015.19,305.38 1011.64,306.63 1008.03,307.84 1004.36,309.03 1000.63,310.18 996.85,311.29 993.01,312.37 989.11,313.41 985.16,314.42 981.16,315.38 977.11,316.31 973.02,317.20 968.88,318.05 964.70,318.86 960.47,319.63 956.21,320.35 951.91,321.04 947.57,321.68 943.21,322.28 938.81,322.83 934.38,323.34 929.93,323.81 925.46,324.23 920.96,324.61 916.45,324.94 911.92,325.22 907.37,325.46 902.82,325.66 898.25,325.80 893.68,325.90 889.10,325.96 884.52,325.97 879.95,325.93 875.37,325.84 870.81,325.71 866.25,325.54 861.70,325.31 857.16,325.04 852.64,324.73 848.14,324.37 843.65,323.96 839.19,323.51 834.76,323.02 830.35,322.48 825.97,321.90 821.63,321.27 817.32,320.60 813.04,319.89 808.80,319.14 804.60,318.34 800.45,317.51 796.34,316.63 792.27,315.72 788.25,314.76 784.29,313.77 780.37,312.74 776.51,311.68 772.71,310.58 768.96,309.44 765.26,308.27 761.63,307.06 758.06,305.83 754.56,304.56 751.11,303.26 747.74,301.93 744.42,300.57 741.18,299.18 738.01,297.77 734.90,296.32 731.86,294.86 728.90,293.36 726.01,291.85 723.19,290.31 720.45,288.74 717.78,287.16 715.19,285.56 712.67,283.94 710.23,282.29 707.86,280.64 705.57,278.96 703.36,277.27 701.22,275.56 699.17,273.84 697.19,272.11 695.29,270.36 693.47,268.61 691.72,266.84 690.05,265.06 688.47,263.28 686.95,261.49 685.52,259.69 684.16,257.88 682.89,256.07 681.68,254.25 680.56,252.43 684.67,297.66 685.77,299.44 686.95,301.22 688.20,303.00 689.53,304.77 690.94,306.54 692.42,308.29 693.97,310.04 695.61,311.78 697.32,313.52 699.10,315.24 700.97,316.95 702.90,318.65 704.92,320.33 707.01,322.00 709.18,323.66 711.42,325.30 713.74,326.93 716.13,328.54 718.60,330.13 721.14,331.70 723.76,333.25 726.45,334.78 729.21,336.29 732.04,337.78 734.95,339.24 737.92,340.68 740.96,342.09 744.08,343.48 747.26,344.84 750.50,346.17 753.81,347.47 757.19,348.75 760.62,349.99 764.12,351.20 767.68,352.38 771.30,353.53 774.97,354.64 778.70,355.72 782.49,356.77 786.32,357.78 790.21,358.75 794.15,359.68 798.13,360.58 802.16,361.44 806.23,362.25 810.34,363.03 814.50,363.77 818.69,364.47 822.92,365.12 827.17,365.74 831.47,366.31 835.78,366.84 840.13,367.32 844.50,367.76 848.89,368.16 853.31,368.51 857.74,368.82 862.18,369.09 866.64,369.31 871.11,369.48 875.59,369.61 880.07,369.69 884.55,369.73 889.04,369.72 893.52,369.67 898.01,369.57 902.48,369.42 906.94,369.23 911.40,369.00 915.84,368.72 920.26,368.39 924.67,368.03 929.05,367.61 933.42,367.16 937.75,366.65 942.06,366.11 946.34,365.52 950.59,364.90 954.80,364.23 958.98,363.51 963.12,362.76 967.22,361.97 971.28,361.14 975.29,360.26 979.26,359.35 983.18,358.41 987.05,357.42 990.86,356.40 994.63,355.34 998.34,354.25 1001.99,353.13 1005.59,351.97 1009.13,350.78 1012.61,349.55 1016.02,348.30 1019.37,347.01 1022.66,345.70 1025.88,344.36 1029.04,342.99 1032.12,341.59 1035.14,340.17 1038.09,338.72 1040.97,337.25 1043.78,335.76 1046.51,334.24 1049.18,332.70 1051.77,331.14 1054.28,329.56 1056.72,327.97 1059.09,326.35" fill="url(#wb_1)" stroke="url(#wb_1)" stroke-width="0.5"/><polygon points="680.56,252.43 679.50,250.60 678.53,248.76 677.62,246.92 676.80,245.09 676.05,243.25 675.37,241.41 674.77,239.57 674.24,237.74 673.78,235.91 673.40,234.08 673.08,232.25 672.84,230.43 672.67,228.62 672.57,226.81 672.53,225.00 676.80,270.78 676.83,272.55 676.93,274.32 677.10,276.10 677.34,277.89 677.65,279.68 678.02,281.47 678.47,283.26 678.99,285.06 679.58,286.86 680.24,288.66 680.98,290.46 681.79,292.27 682.68,294.07 683.63,295.86 684.67,297.66" fill="url(#wb_2)" stroke="url(#wb_2)" stroke-width="0.5"/><polygon points="886.00,204.00 886.00,124.03 889.01,124.04 892.01,124.07 895.02,124.12 898.02,124.19 901.03,124.28 904.03,124.39 907.02,124.52 910.02,124.67 913.01,124.84 916.00,125.03 918.98,125.25 921.96,125.48 924.93,125.73 927.89,126.00 930.85,126.29 933.81,126.60 936.75,126.93 939.69,127.28 942.62,127.65 945.55,128.04 948.46,128.45 951.36,128.88 954.26,129.33 957.14,129.80 960.01,130.30 962.87,130.81 965.72,131.34 968.56,131.89 971.38,132.46 974.19,133.05 976.98,133.66 979.76,134.29 982.53,134.95 985.28,135.62 988.01,136.31 990.73,137.02 993.43,137.75 996.11,138.50 998.78,139.27 1001.42,140.06 1004.05,140.88 1006.65,141.71 1009.23,142.56 1011.80,143.43 1014.34,144.32 1016.86,145.23 1019.35,146.16 1021.82,147.11 1024.27,148.08 1026.69,149.06 1029.09,150.07 1031.46,151.10 1033.80,152.15 1036.11,153.21 1038.40,154.30 1040.65,155.40 1042.88,156.53 1045.08,157.67 1047.24,158.83 1049.37,160.01 1051.47,161.21 1053.54,162.43 1055.57,163.67 1057.57,164.92 1059.53,166.20 1061.46,167.49 1063.34,168.80 1065.19,170.13 1067.00,171.47 1068.77,172.84 1070.50,174.22 1072.19,175.62 1073.84,177.03 1075.44,178.47 1077.00,179.91 1078.52,181.38 1079.99,182.86 1081.41,184.36 1082.79,185.87 1084.12,187.40 1085.40,188.95 1086.63,190.51 1087.81,192.09 1088.93,193.67 1090.01,195.28 1091.03,196.90 1092.00,198.53 1092.91,200.17 1093.77,201.83 1094.57,203.50 1095.32,205.19 1096.00,206.88 1096.63,208.59 1097.20,210.30 1097.70,212.03 1098.14,213.77 1098.53,215.52 1098.84,217.28 1099.10,219.04 1099.29,220.82 1099.41,222.60 1099.46,224.39 1099.45,226.19 1099.38,227.99 1099.23,229.80 1099.01,231.61 1098.72,233.43 1098.37,235.25 1097.94,237.08 1097.43,238.91 1096.86,240.74 1096.21,242.57 1095.49,244.40 1094.70,246.23 1093.82,248.07 1092.88,249.90 1091.86,251.72 1090.76,253.55 1089.58,255.37 1088.33,257.19 1087.00,259.00 1085.60,260.81 1084.11,262.61 1082.55,264.40 1080.91,266.18 1079.19,267.96 1077.39,269.72 1075.52,271.47 1073.56,273.21 1071.53,274.94 1069.42,276.65 1067.23,278.35 1064.97,280.04 1062.62,281.71" fill="#156082" stroke="#156082" stroke-width="0.6" stroke-linejoin="round"/><polygon points="886.00,204.00 1062.62,281.71 1060.21,283.35 1057.72,284.98 1055.15,286.59 1052.51,288.18 1049.79,289.75 1047.00,291.30 1044.13,292.83 1041.20,294.33 1038.19,295.80 1035.11,297.26 1031.96,298.68 1028.74,300.08 1025.45,301.45 1022.09,302.79 1018.67,304.10 1015.19,305.38 1011.64,306.63 1008.03,307.84 1004.36,309.03 1000.63,310.18 996.85,311.29 993.01,312.37 989.11,313.41 985.16,314.42 981.16,315.38 977.11,316.31 973.02,317.20 968.88,318.05 964.70,318.86 960.47,319.63 956.21,320.35 951.91,321.04 947.57,321.68 943.21,322.28 938.81,322.83 934.38,323.34 929.93,323.81 925.46,324.23 920.96,324.61 916.45,324.94 911.92,325.22 907.37,325.46 902.82,325.66 898.25,325.80 893.68,325.90 889.10,325.96 884.52,325.97 879.95,325.93 875.37,325.84 870.81,325.71 866.25,325.54 861.70,325.31 857.16,325.04 852.64,324.73 848.14,324.37 843.65,323.96 839.19,323.51 834.76,323.02 830.35,322.48 825.97,321.90 821.63,321.27 817.32,320.60 813.04,319.89 808.80,319.14 804.60,318.34 800.45,317.51 796.34,316.63 792.27,315.72 788.25,314.76 784.29,313.77 780.37,312.74 776.51,311.68 772.71,310.58 768.96,309.44 765.26,308.27 761.63,307.06 758.06,305.83 754.56,304.56 751.11,303.26 747.74,301.93 744.42,300.57 741.18,299.18 738.01,297.77 734.90,296.32 731.86,294.86 728.90,293.36 726.01,291.85 723.19,290.31 720.45,288.74 717.78,287.16 715.19,285.56 712.67,283.94 710.23,282.29 707.86,280.64 705.57,278.96 703.36,277.27 701.22,275.56 699.17,273.84 697.19,272.11 695.29,270.36 693.47,268.61 691.72,266.84 690.05,265.06 688.47,263.28 686.95,261.49 685.52,259.69 684.16,257.88 682.89,256.07 681.68,254.25 680.56,252.43" fill="#e6702f" stroke="#e6702f" stroke-width="0.6" stroke-linejoin="round"/><polygon points="886.00,204.00 680.56,252.43 679.52,250.62 678.55,248.81 677.66,246.99 676.84,245.18 676.09,243.36 675.42,241.55 674.82,239.74 674.29,237.92 673.83,236.11 673.44,234.31 673.12,232.50 672.87,230.71 672.69,228.91 672.58,227.12 672.53,225.34 672.55,223.56 672.64,221.80 672.79,220.03 673.00,218.28 673.28,216.53 673.62,214.80 674.03,213.07 674.49,211.35 675.01,209.64 675.60,207.95 676.24,206.26 676.94,204.59 677.70,202.93 678.51,201.28 679.38,199.64 680.30,198.01" fill="#196b24" stroke="#196b24" stroke-width="0.6" stroke-linejoin="round"/><polygon points="886.00,204.00 680.30,198.01 681.27,196.41 682.29,194.82 683.37,193.24 684.49,191.68 685.66,190.13 686.89,188.60 688.16,187.08 689.48,185.58 690.84,184.09 692.25,182.62 693.71,181.16 695.21,179.72 696.75,178.29 698.33,176.88 699.96,175.49 701.63,174.11 703.33,172.75 705.08,171.41 706.86,170.09 708.69,168.78 710.55,167.49 712.44,166.22" fill="#0f9ed5" stroke="#0f9ed5" stroke-width="0.6" stroke-linejoin="round"/><polygon points="886.00,204.00 712.44,166.22 714.37,164.96 716.33,163.73 718.33,162.51 720.36,161.31 722.42,160.13 724.51,158.97 726.64,157.82 728.79,156.70 730.98,155.59 733.19,154.50 735.43,153.43 737.70,152.37 740.00,151.34 742.32,150.33 744.67,149.33 747.05,148.35 749.44,147.39 751.87,146.46" fill="#a02b93" stroke="#a02b93" stroke-width="0.6" stroke-linejoin="round"/><polygon points="886.00,204.00 751.87,146.46 754.30,145.54 756.75,144.64 759.23,143.77 761.72,142.91 764.24,142.07 766.78,141.25 769.33,140.45 771.91,139.66 774.50,138.90 777.11,138.16 779.74,137.43 782.39,136.72 785.05,136.04 787.73,135.37 790.42,134.72 793.13,134.09 795.85,133.48" fill="#4ea72e" stroke="#4ea72e" stroke-width="0.6" stroke-linejoin="round"/><polygon points="886.00,204.00 795.85,133.48 798.60,132.88 801.35,132.31 804.12,131.75 806.91,131.22 809.70,130.70 812.51,130.21 815.33,129.73 818.16,129.27 820.99,128.83 823.84,128.41 826.70,128.01 829.56,127.63 832.44,127.26 835.32,126.92" fill="#0d3a4e" stroke="#0d3a4e" stroke-width="0.6" stroke-linejoin="round"/><polygon points="886.00,204.00 835.32,126.92 838.26,126.59 841.21,126.28 844.17,125.99 847.13,125.72 850.10,125.47 853.07,125.24 856.05,125.03 859.03,124.84 862.02,124.67 865.01,124.52 868.00,124.39 871.00,124.28 873.99,124.19 876.99,124.12 880.00,124.07 883.00,124.04 886.00,124.03" fill="#9a4010" stroke="#9a4010" stroke-width="0.6" stroke-linejoin="round"/><polyline points="1099.47,223.70 1099.44,225.48 1099.34,227.27 1099.17,229.06 1098.93,230.85 1098.63,232.65 1098.25,234.46 1097.81,236.27 1097.29,238.07 1096.71,239.89 1096.05,241.70 1095.32,243.51 1094.52,245.32 1093.64,247.14 1092.69,248.95 1091.66,250.76 1090.56,252.56 1089.39,254.36 1088.14,256.16 1086.81,257.95 1085.41,259.74 1083.93,261.52 1082.38,263.29 1080.75,265.05 1079.04,266.81 1077.25,268.55 1075.39,270.28 1073.46,272.01 1071.44,273.71 1069.35,275.41 1067.18,277.09 1064.94,278.76 1062.62,280.41" fill="none" stroke="url(#bvb_0)" stroke-width="2" opacity="0.9" stroke-linecap="round"/><polyline points="1062.62,280.41 1060.21,282.05 1057.72,283.68 1055.15,285.29 1052.51,286.88 1049.79,288.45 1047.00,290.00 1044.13,291.53 1041.20,293.03 1038.19,294.50 1035.11,295.96 1031.96,297.38 1028.74,298.78 1025.45,300.15 1022.09,301.49 1018.67,302.80 1015.19,304.08 1011.64,305.33 1008.03,306.54 1004.36,307.73 1000.63,308.88 996.85,309.99 993.01,311.07 989.11,312.11 985.16,313.12 981.16,314.08 977.11,315.01 973.02,315.90 968.88,316.75 964.70,317.56 960.47,318.33 956.21,319.05 951.91,319.74 947.57,320.38 943.21,320.98 938.81,321.53 934.38,322.04 929.93,322.51 925.46,322.93 920.96,323.31 916.45,323.64 911.92,323.92 907.37,324.16 902.82,324.36 898.25,324.50 893.68,324.60 889.10,324.66 884.52,324.67 879.95,324.63 875.37,324.54 870.81,324.41 866.25,324.24 861.70,324.01 857.16,323.74 852.64,323.43 848.14,323.07 843.65,322.66 839.19,322.21 834.76,321.72 830.35,321.18 825.97,320.60 821.63,319.97 817.32,319.30 813.04,318.59 808.80,317.84 804.60,317.04 800.45,316.21 796.34,315.33 792.27,314.42 788.25,313.46 784.29,312.47 780.37,311.44 776.51,310.38 772.71,309.28 768.96,308.14 765.26,306.97 761.63,305.76 758.06,304.53 754.56,303.26 751.11,301.96 747.74,300.63 744.42,299.27 741.18,297.88 738.01,296.47 734.90,295.02 731.86,293.56 728.90,292.06 726.01,290.55 723.19,289.01 720.45,287.44 717.78,285.86 715.19,284.26 712.67,282.64 710.23,280.99 707.86,279.34 705.57,277.66 703.36,275.97 701.22,274.26 699.17,272.54 697.19,270.81 695.29,269.06 693.47,267.31 691.72,265.54 690.05,263.76 688.47,261.98 686.95,260.19 685.52,258.39 684.16,256.58 682.89,254.77 681.68,252.95 680.56,251.13" fill="none" stroke="url(#bvb_1)" stroke-width="2" opacity="0.9" stroke-linecap="round"/><polyline points="680.56,251.13 679.50,249.30 678.53,247.46 677.62,245.62 676.80,243.79 676.05,241.95 675.37,240.11 674.77,238.27 674.24,236.44 673.78,234.61 673.40,232.78 673.08,230.95 672.84,229.13 672.67,227.32 672.57,225.51 672.53,223.70" fill="none" stroke="url(#bvb_2)" stroke-width="2" opacity="0.9" stroke-linecap="round"/><defs><filter id="shm" x="-20%" y="-20%" width="140%" height="140%"><feGaussianBlur stdDeviation="4"/></filter><linearGradient id="wm_0" gradientUnits="userSpaceOnUse" x1="694.5" y1="0" x2="1094.5" y2="0"><stop offset="0" stop-color="#135675"/><stop offset="0.24" stop-color="#12516d"/><stop offset="0.3" stop-color="#104963"/><stop offset="0.5" stop-color="#0d3c52"/><stop offset="0.75" stop-color="#0a3041"/><stop offset="1" stop-color="#092938"/></linearGradient><linearGradient id="wm_1" gradientUnits="userSpaceOnUse" x1="694.5" y1="0" x2="1094.5" y2="0"><stop offset="0" stop-color="#cf652a"/><stop offset="0.24" stop-color="#c15e27"/><stop offset="0.3" stop-color="#af5524"/><stop offset="0.5" stop-color="#91471e"/><stop offset="0.75" stop-color="#733818"/><stop offset="1" stop-color="#633014"/></linearGradient><linearGradient id="bvm_0" gradientUnits="userSpaceOnUse" x1="694.5" y1="0" x2="1094.5" y2="0"><stop offset="0" stop-color="#186c92"/><stop offset="0.4" stop-color="#176a8f"/><stop offset="0.7" stop-color="#156082"/><stop offset="0.9" stop-color="#114d68"/><stop offset="1" stop-color="#0f435b"/></linearGradient><linearGradient id="bvm_1" gradientUnits="userSpaceOnUse" x1="694.5" y1="0" x2="1094.5" y2="0"><stop offset="0" stop-color="#ff7d35"/><stop offset="0.4" stop-color="#fd7b34"/><stop offset="0.7" stop-color="#e6702f"/><stop offset="0.9" stop-color="#b85a26"/><stop offset="1" stop-color="#a14e21"/></linearGradient></defs><polygon points="894.50,507.10 900.04,507.14 905.57,507.25 911.10,507.43 916.62,507.69 922.13,508.03 927.62,508.43 933.09,508.92 938.53,509.47 943.95,510.10 949.34,510.81 954.70,511.59 960.02,512.44 965.30,513.37 970.53,514.37 975.71,515.44 980.85,516.59 985.93,517.82 990.94,519.12 995.90,520.49 1000.78,521.93 1005.59,523.45 1010.33,525.04 1014.98,526.71 1019.55,528.45 1024.02,530.26 1028.40,532.14 1032.68,534.10 1036.86,536.12 1040.92,538.22 1044.87,540.39 1048.69,542.62 1052.39,544.93 1055.96,547.30 1059.38,549.74 1062.66,552.25 1065.80,554.82 1068.77,557.45 1071.58,560.15 1074.23,562.91 1076.70,565.72 1078.98,568.59 1081.08,571.52 1082.99,574.50 1084.69,577.52 1086.19,580.60 1087.47,583.72 1088.54,586.88 1089.37,590.09 1089.98,593.33 1090.35,596.60 1090.47,599.89 1090.35,603.22 1089.97,606.56 1089.33,609.92 1088.42,613.29 1087.25,616.67 1085.80,620.05 1084.07,623.43 1082.07,626.79 1079.78,630.15 1077.20,633.48 1074.33,636.78 1071.18,640.06 1067.74,643.29 1064.00,646.48 1059.98,649.62 1055.68,652.69 1051.09,655.71 1046.22,658.65 1041.07,661.51 1035.65,664.28 1029.97,666.96 1024.03,669.55 1017.83,672.02 1011.40,674.39 1004.74,676.63 997.85,678.75 990.76,680.74 983.46,682.59 975.99,684.30 968.34,685.87 960.54,687.28 952.60,688.53 944.53,689.63 936.36,690.56 928.10,691.33 919.76,691.93 911.37,692.36 902.95,692.62 894.50,692.71 886.05,692.62 877.63,692.36 869.24,691.93 860.90,691.33 852.64,690.56 844.47,689.63 836.40,688.53 828.46,687.28 820.66,685.87 813.01,684.30 805.54,682.59 798.24,680.74 791.15,678.75 784.26,676.63 777.60,674.39 771.17,672.02 764.97,669.55 759.03,666.96 753.35,664.28 747.93,661.51 742.78,658.65 737.91,655.71 733.32,652.69 729.02,649.62 725.00,646.48 721.26,643.29 717.82,640.06 714.67,636.78 711.80,633.48 709.22,630.15 706.93,626.79 704.93,623.43 703.20,620.05 701.75,616.67 700.58,613.29 699.67,609.92 699.03,606.56 698.65,603.22 698.53,599.89 698.65,596.60 699.02,593.33 699.63,590.09 700.46,586.88 701.53,583.72 702.81,580.60 704.31,577.52 706.01,574.50 707.92,571.52 710.02,568.59 712.30,565.72 714.77,562.91 717.42,560.15 720.23,557.45 723.20,554.82 726.34,552.25 729.62,549.74 733.04,547.30 736.61,544.93 740.31,542.62 744.13,540.39 748.08,538.22 752.14,536.12 756.32,534.10 760.60,532.14 764.98,530.26 769.45,528.45 774.02,526.71 778.67,525.04 783.41,523.45 788.22,521.93 793.10,520.49 798.06,519.12 803.07,517.82 808.15,516.59 813.29,515.44 818.47,514.37 823.70,513.37 828.98,512.44 834.30,511.59 839.66,510.81 845.05,510.10 850.47,509.47 855.91,508.92 861.38,508.43 866.87,508.03 872.38,507.69 877.90,507.43 883.43,507.25 888.96,507.14 894.50,507.10" fill="#000" opacity="0.22" filter="url(#shm)"/><polygon points="1094.47,554.20 1094.44,555.89 1094.35,557.58 1094.19,559.28 1093.96,560.98 1093.67,562.69 1093.31,564.40 1092.88,566.11 1092.39,567.83 1091.83,569.55 1091.20,571.27 1090.50,572.99 1089.73,574.71 1088.89,576.43 1087.97,578.14 1086.99,579.86 1085.94,581.57 1084.81,583.28 1083.61,584.98 1082.34,586.68 1081.00,588.37 1079.58,590.06 1078.09,591.74 1076.53,593.41 1074.89,595.07 1073.18,596.72 1071.40,598.36 1069.54,599.99 1067.61,601.61 1065.60,603.21 1063.53,604.80 1061.38,606.38 1059.16,607.93 1056.86,609.48 1054.50,611.00 1052.06,612.51 1049.56,614.00 1046.98,615.47 1044.33,616.91 1041.62,618.34 1038.83,619.74 1035.98,621.12 1033.06,622.48 1030.08,623.81 1027.03,625.11 1023.92,626.39 1020.75,627.64 1017.51,628.86 1014.22,630.05 1010.86,631.21 1007.45,632.34 1003.98,633.44 1000.46,634.51 996.88,635.54 993.26,636.54 989.58,637.51 985.85,638.44 982.08,639.33 978.26,640.19 974.39,641.01 970.49,641.79 966.55,642.53 962.56,643.24 958.55,643.91 954.49,644.53 950.41,645.12 946.30,645.66 942.16,646.17 937.99,646.63 933.80,647.05 929.59,647.42 925.36,647.76 921.12,648.05 916.86,648.30 912.58,648.51 908.30,648.67 904.01,648.79 899.72,648.86 895.42,648.89 891.12,648.88 886.82,648.82 882.53,648.72 878.25,648.58 873.97,648.39 869.70,648.16 865.45,647.89 861.21,647.57 856.99,647.21 852.80,646.81 848.62,646.37 844.47,645.88 840.34,645.36 836.25,644.79 832.18,644.18 828.15,643.53 824.15,642.84 820.19,642.11 816.27,641.35 812.39,640.54 808.55,639.70 804.76,638.82 801.01,637.91 797.31,636.96 793.66,635.97 790.06,634.95 792.15,676.04 795.68,677.04 799.25,678.01 802.88,678.94 806.55,679.84 810.27,680.70 814.03,681.52 817.83,682.31 821.68,683.06 825.56,683.77 829.48,684.45 833.43,685.08 837.41,685.68 841.43,686.24 845.47,686.75 849.54,687.23 853.63,687.67 857.74,688.06 861.88,688.41 866.03,688.72 870.20,688.99 874.38,689.22 878.57,689.40 882.77,689.54 886.98,689.64 891.19,689.69 895.40,689.71 899.61,689.67 903.82,689.60 908.02,689.48 912.22,689.33 916.41,689.12 920.58,688.88 924.74,688.59 928.89,688.27 933.02,687.90 937.12,687.48 941.20,687.03 945.26,686.54 949.29,686.00 953.29,685.43 957.27,684.82 961.20,684.17 965.10,683.47 968.97,682.74 972.80,681.98 976.58,681.17 980.33,680.33 984.02,679.46 987.68,678.55 991.28,677.60 994.84,676.62 998.34,675.61 1001.79,674.56 1005.19,673.48 1008.54,672.38 1011.82,671.24 1015.05,670.07 1018.22,668.87 1021.33,667.65 1024.38,666.40 1027.37,665.12 1030.29,663.82 1033.15,662.49 1035.95,661.14 1038.67,659.76 1041.34,658.36 1043.93,656.95 1046.45,655.51 1048.91,654.05 1051.30,652.57 1053.62,651.08 1055.86,649.57 1058.04,648.04 1060.15,646.49 1062.18,644.94 1064.15,643.36 1066.04,641.78 1067.86,640.18 1069.61,638.58 1071.28,636.96 1072.89,635.33 1074.42,633.69 1075.88,632.05 1077.27,630.39 1078.58,628.74 1079.83,627.07 1081.00,625.40 1082.11,623.73 1083.14,622.05 1084.11,620.37 1085.00,618.69 1085.82,617.00 1086.58,615.32 1087.26,613.63 1087.88,611.95 1088.43,610.26 1088.92,608.58 1089.33,606.90 1089.68,605.23 1089.97,603.55 1090.19,601.88 1090.35,600.22 1090.44,598.56 1090.47,596.90" fill="url(#wm_0)" stroke="url(#wm_0)" stroke-width="0.5"/><polygon points="790.06,634.95 786.55,633.91 783.10,632.84 779.70,631.73 776.35,630.60 773.06,629.43 769.84,628.24 766.67,627.02 763.56,625.77 760.51,624.49 757.52,623.19 754.60,621.86 751.75,620.51 748.96,619.14 746.23,617.74 743.57,616.32 740.98,614.88 738.46,613.42 736.01,611.94 733.62,610.44 731.31,608.93 729.07,607.40 726.89,605.85 724.79,604.29 722.76,602.71 720.80,601.12 718.91,599.52 717.10,597.90 715.35,596.27 713.68,594.64 712.08,592.99 710.55,591.34 709.09,589.68 707.71,588.01 706.39,586.33 705.15,584.65 703.98,582.96 702.87,581.27 701.84,579.58 700.88,577.88 699.99,576.18 699.17,574.48 698.42,572.78 697.73,571.08 697.11,569.38 696.56,567.68 696.08,565.98 695.67,564.29 695.31,562.60 695.03,560.91 694.81,559.22 694.65,557.54 694.56,555.87 694.53,554.20 698.53,596.90 698.56,598.54 698.65,600.18 698.80,601.83 699.02,603.48 699.30,605.13 699.64,606.79 700.05,608.45 700.52,610.12 701.06,611.78 701.67,613.45 702.34,615.12 703.08,616.78 703.88,618.45 704.76,620.12 705.70,621.78 706.71,623.44 707.79,625.09 708.94,626.75 710.15,628.39 711.44,630.04 712.80,631.67 714.23,633.30 715.73,634.92 717.30,636.54 718.93,638.14 720.64,639.73 722.42,641.31 724.27,642.89 726.19,644.44 728.18,645.99 730.24,647.52 732.37,649.04 734.57,650.54 736.84,652.03 739.18,653.49 741.58,654.94 744.05,656.37 746.59,657.78 749.20,659.18 751.87,660.54 754.60,661.89 757.40,663.22 760.26,664.52 763.19,665.79 766.18,667.04 769.22,668.27 772.33,669.47 775.49,670.64 778.71,671.78 781.99,672.89 785.33,673.97 788.71,675.02 792.15,676.04" fill="url(#wm_1)" stroke="url(#wm_1)" stroke-width="0.5"/><polygon points="894.50,534.50 894.50,459.50 897.32,459.51 900.14,459.54 902.96,459.58 905.78,459.65 908.60,459.74 911.42,459.84 914.23,459.96 917.04,460.10 919.85,460.26 922.65,460.44 925.45,460.64 928.25,460.86 931.04,461.09 933.82,461.35 936.60,461.62 939.37,461.91 942.13,462.23 944.89,462.56 947.64,462.91 950.39,463.27 953.12,463.66 955.84,464.07 958.56,464.49 961.26,464.93 963.96,465.40 966.64,465.88 969.32,466.38 971.98,466.90 974.63,467.43 977.26,467.99 979.89,468.57 982.49,469.16 985.09,469.77 987.67,470.41 990.23,471.06 992.78,471.73 995.32,472.42 997.83,473.12 1000.33,473.85 1002.81,474.59 1005.27,475.36 1007.72,476.14 1010.14,476.94 1012.54,477.76 1014.93,478.60 1017.29,479.45 1019.63,480.33 1021.95,481.22 1024.24,482.14 1026.51,483.07 1028.76,484.02 1030.98,484.98 1033.17,485.97 1035.34,486.97 1037.49,487.99 1039.60,489.03 1041.69,490.09 1043.75,491.17 1045.77,492.26 1047.77,493.37 1049.74,494.50 1051.68,495.65 1053.58,496.81 1055.45,498.00 1057.29,499.20 1059.09,500.41 1060.85,501.64 1062.59,502.90 1064.28,504.16 1065.94,505.45 1067.56,506.75 1069.14,508.06 1070.68,509.39 1072.18,510.74 1073.63,512.11 1075.05,513.49 1076.42,514.88 1077.75,516.29 1079.04,517.72 1080.28,519.16 1081.47,520.61 1082.62,522.08 1083.72,523.56 1084.77,525.06 1085.77,526.57 1086.72,528.09 1087.62,529.62 1088.47,531.17 1089.27,532.73 1090.01,534.30 1090.70,535.89 1091.33,537.48 1091.91,539.09 1092.43,540.70 1092.90,542.33 1093.30,543.96 1093.65,545.61 1093.94,547.26 1094.16,548.92 1094.33,550.59 1094.43,552.27 1094.47,553.95 1094.45,555.64 1094.36,557.33 1094.21,559.03 1094.00,560.74 1093.71,562.45 1093.36,564.16 1092.95,565.88 1092.46,567.60 1091.91,569.32 1091.29,571.04 1090.59,572.76 1089.83,574.48 1089.00,576.20 1088.09,577.92 1087.12,579.64 1086.07,581.36 1084.95,583.07 1083.76,584.77 1082.50,586.48 1081.16,588.17 1079.75,589.86 1078.27,591.54 1076.71,593.22 1075.08,594.88 1073.37,596.54 1071.60,598.18 1069.74,599.81 1067.82,601.43 1065.82,603.04 1063.75,604.63 1061.60,606.21 1059.39,607.78 1057.10,609.32 1054.74,610.85 1052.30,612.36 1049.80,613.86 1047.23,615.33 1044.58,616.78 1041.87,618.21 1039.09,619.61 1036.24,621.00 1033.32,622.36 1030.34,623.69 1027.29,625.00 1024.18,626.28 1021.01,627.53 1017.78,628.76 1014.48,629.96 1011.13,631.12 1007.71,632.26 1004.25,633.36 1000.72,634.43 997.14,635.47 993.51,636.47 989.83,637.44 986.11,638.37 982.33,639.27 978.51,640.13 974.64,640.96 970.73,641.74 966.79,642.49 962.80,643.20 958.78,643.87 954.72,644.50 950.64,645.09 946.52,645.63 942.37,646.14 938.20,646.60 934.01,647.03 929.79,647.41 925.56,647.74 921.31,648.04 917.04,648.29 912.76,648.50 908.48,648.66 904.18,648.78 899.88,648.86 895.58,648.89 891.27,648.88 886.97,648.83 882.67,648.73 878.38,648.59 874.10,648.40 869.82,648.17 865.56,647.90 861.32,647.58 857.10,647.22 852.89,646.82 848.71,646.38 844.55,645.89 840.42,645.37 836.32,644.80 832.24,644.19 828.20,643.54 824.20,642.85 820.23,642.12 816.31,641.35 812.42,640.55 808.58,639.71 804.78,638.83 801.02,637.91 797.32,636.96 793.66,635.97 790.06,634.95" fill="#156082" stroke="#156082" stroke-width="0.6" stroke-linejoin="round"/><polygon points="894.50,534.50 790.06,634.95 786.52,633.90 783.03,632.82 779.60,631.70 776.22,630.55 772.91,629.38 769.65,628.17 766.45,626.93 763.32,625.67 760.25,624.38 757.24,623.06 754.30,621.72 751.42,620.35 748.61,618.96 745.87,617.55 743.19,616.11 740.59,614.66 738.05,613.18 735.59,611.68 733.19,610.17 730.87,608.63 728.62,607.09 726.44,605.52 724.33,603.94 722.30,602.34 720.34,600.73 718.45,599.11 716.64,597.48 714.89,595.83 713.22,594.18 711.63,592.52 710.11,590.84 708.66,589.16 707.28,587.47 705.98,585.78 704.75,584.08 703.59,582.38 702.50,580.67 701.48,578.96 700.54,577.25 699.67,575.53 698.86,573.81 698.13,572.10 697.47,570.38 696.87,568.66 696.35,566.95 695.89,565.23 695.50,563.52 695.17,561.82 694.92,560.11 694.72,558.41 694.60,556.72 694.53,555.03 694.53,553.35 694.60,551.67 694.72,550.00 694.91,548.34 695.16,546.69 695.46,545.04 695.83,543.40 696.25,541.78 696.74,540.16 697.28,538.55 697.87,536.95 698.52,535.37 699.22,533.79 699.98,532.23 700.79,530.67 701.66,529.13 702.57,527.61 703.54,526.09 704.55,524.59 705.61,523.10 706.72,521.63 707.88,520.17 709.09,518.72 710.34,517.29 711.63,515.88 712.97,514.47 714.35,513.09 715.78,511.72 717.24,510.36 718.75,509.02 720.30,507.70 721.88,506.39 723.51,505.10 725.17,503.82 726.87,502.56 728.61,501.32 730.38,500.09 732.18,498.88 734.03,497.69 735.90,496.52 737.81,495.36 739.74,494.22 741.71,493.10 743.71,492.00 745.74,490.91 747.80,489.84 749.89,488.79 752.01,487.76 754.15,486.74 756.32,485.74 758.52,484.77 760.74,483.80" fill="#e6702f" stroke="#e6702f" stroke-width="0.6" stroke-linejoin="round"/><polygon points="894.50,534.50 760.74,483.80 762.99,482.86 765.26,481.93 767.56,481.03 769.88,480.14 772.22,479.27 774.59,478.41 776.97,477.58 779.38,476.77 781.81,475.97 784.25,475.19 786.72,474.43 789.20,473.69 791.70,472.97 794.22,472.27 796.75,471.58 799.30,470.92 801.87,470.27 804.45,469.64 807.05,469.04 809.66,468.45 812.28,467.87 814.92,467.32 817.57,466.79 820.23,466.27 822.91,465.78 825.59,465.30 828.29,464.84 830.99,464.40 833.71,463.98 836.43,463.58 839.17,463.20 841.91,462.83 844.66,462.49 847.42,462.16 850.18,461.85 852.95,461.57 855.73,461.30 858.51,461.05 861.30,460.81 864.10,460.60" fill="#196b24" stroke="#196b24" stroke-width="0.6" stroke-linejoin="round"/><polygon points="894.50,534.50 864.10,460.60 866.85,460.41 869.60,460.24 872.36,460.08 875.12,459.95 877.88,459.83 880.65,459.73 883.42,459.65 886.19,459.58 888.96,459.54 891.73,459.51 894.50,459.50" fill="#0f9ed5" stroke="#0f9ed5" stroke-width="0.6" stroke-linejoin="round"/><polyline points="1094.47,552.90 1094.44,554.59 1094.35,556.28 1094.19,557.98 1093.96,559.68 1093.67,561.39 1093.31,563.10 1092.88,564.81 1092.39,566.53 1091.83,568.25 1091.20,569.97 1090.50,571.69 1089.73,573.41 1088.89,575.13 1087.97,576.84 1086.99,578.56 1085.94,580.27 1084.81,581.98 1083.61,583.68 1082.34,585.38 1081.00,587.07 1079.58,588.76 1078.09,590.44 1076.53,592.11 1074.89,593.77 1073.18,595.42 1071.40,597.06 1069.54,598.69 1067.61,600.31 1065.60,601.91 1063.53,603.50 1061.38,605.08 1059.16,606.63 1056.86,608.18 1054.50,609.70 1052.06,611.21 1049.56,612.70 1046.98,614.17 1044.33,615.61 1041.62,617.04 1038.83,618.44 1035.98,619.82 1033.06,621.18 1030.08,622.51 1027.03,623.81 1023.92,625.09 1020.75,626.34 1017.51,627.56 1014.22,628.75 1010.86,629.91 1007.45,631.04 1003.98,632.14 1000.46,633.21 996.88,634.24 993.26,635.24 989.58,636.21 985.85,637.14 982.08,638.03 978.26,638.89 974.39,639.71 970.49,640.49 966.55,641.23 962.56,641.94 958.55,642.61 954.49,643.23 950.41,643.82 946.30,644.36 942.16,644.87 937.99,645.33 933.80,645.75 929.59,646.12 925.36,646.46 921.12,646.75 916.86,647.00 912.58,647.21 908.30,647.37 904.01,647.49 899.72,647.56 895.42,647.59 891.12,647.58 886.82,647.52 882.53,647.42 878.25,647.28 873.97,647.09 869.70,646.86 865.45,646.59 861.21,646.27 856.99,645.91 852.80,645.51 848.62,645.07 844.47,644.58 840.34,644.06 836.25,643.49 832.18,642.88 828.15,642.23 824.15,641.54 820.19,640.81 816.27,640.05 812.39,639.24 808.55,638.40 804.76,637.52 801.01,636.61 797.31,635.66 793.66,634.67 790.06,633.65" fill="none" stroke="url(#bvm_0)" stroke-width="2" opacity="0.9" stroke-linecap="round"/><polyline points="790.06,633.65 786.55,632.61 783.10,631.54 779.70,630.43 776.35,629.30 773.06,628.13 769.84,626.94 766.67,625.72 763.56,624.47 760.51,623.19 757.52,621.89 754.60,620.56 751.75,619.21 748.96,617.84 746.23,616.44 743.57,615.02 740.98,613.58 738.46,612.12 736.01,610.64 733.62,609.14 731.31,607.63 729.07,606.10 726.89,604.55 724.79,602.99 722.76,601.41 720.80,599.82 718.91,598.22 717.10,596.60 715.35,594.97 713.68,593.34 712.08,591.69 710.55,590.04 709.09,588.38 707.71,586.71 706.39,585.03 705.15,583.35 703.98,581.66 702.87,579.97 701.84,578.28 700.88,576.58 699.99,574.88 699.17,573.18 698.42,571.48 697.73,569.78 697.11,568.08 696.56,566.38 696.08,564.68 695.67,562.99 695.31,561.30 695.03,559.61 694.81,557.92 694.65,556.24 694.56,554.57 694.53,552.90" fill="none" stroke="url(#bvm_1)" stroke-width="2" opacity="0.9" stroke-linecap="round"/></svg>
<div class="t" style="left:829.30px;top:84.70px;font-size:13.7px;line-height:13.7px;color:#9a4010;font-weight:bold;transform:scaleX(1.059645690957098);transform-origin:left top;-webkit-text-stroke:0.3px currentColor;">Others</div>
<div class="t" style="left:834.49px;top:102.00px;font-size:13.7px;line-height:13.7px;color:#9a4010;font-weight:bold;transform:scaleX(1.009747472457722);transform-origin:left top;-webkit-text-stroke:0.3px currentColor;">4,7 %</div>
<div class="t" style="left:787.05px;top:89.50px;font-size:13.7px;line-height:13.7px;color:#0d3a4e;font-weight:bold;transform:scaleX(1.100843129322247);transform-origin:left top;-webkit-text-stroke:0.3px currentColor;">17m</div>
<div class="t" style="left:784.69px;top:107.30px;font-size:13.7px;line-height:13.7px;color:#0d3a4e;font-weight:bold;transform:scaleX(0.9896082042886054);transform-origin:left top;-webkit-text-stroke:0.3px currentColor;">3,8 %</div>
<div class="t" style="left:731.35px;top:110.40px;font-size:13.7px;line-height:13.7px;color:#4ea72e;font-weight:bold;transform:scaleX(1.0292437866528203);transform-origin:left top;-webkit-text-stroke:0.3px currentColor;">80m</div>
<div class="t" style="left:727.79px;top:127.90px;font-size:13.7px;line-height:13.7px;color:#4ea72e;font-weight:bold;transform:scaleX(1.009747472457722);transform-origin:left top;-webkit-text-stroke:0.3px currentColor;">4,6 %</div>
<div class="t" style="left:687.38px;top:132.00px;font-size:13.7px;line-height:13.7px;color:#a02b93;font-weight:bold;transform:scaleX(1.032140964247521);transform-origin:left top;-webkit-text-stroke:0.3px currentColor;">30m</div>
<div class="t" style="left:683.39px;top:150.00px;font-size:13.7px;line-height:13.7px;color:#a02b93;font-weight:bold;transform:scaleX(1.009747472457722);transform-origin:left top;-webkit-text-stroke:0.3px currentColor;">4,9 %</div>
<div class="t" style="left:647.87px;top:163.20px;font-size:13.7px;line-height:13.7px;color:#0f9ed5;font-weight:bold;transform:scaleX(1.073613793967989);transform-origin:left top;-webkit-text-stroke:0.3px currentColor;">10m</div>
<div class="t" style="left:644.70px;top:181.20px;font-size:13.7px;line-height:13.7px;color:#0f9ed5;font-weight:bold;transform:scaleX(1.0038125396544124);transform-origin:left top;-webkit-text-stroke:0.3px currentColor;">6,0 %</div>
<div class="t" style="left:1078.88px;top:134.30px;font-size:13.7px;line-height:13.7px;color:#156082;font-weight:bold;transform:scaleX(1.0431232948768052);transform-origin:left top;-webkit-text-stroke:0.3px currentColor;">40m</div>
<div class="t" style="left:1071.59px;top:152.10px;font-size:13.7px;line-height:13.7px;color:#156082;font-weight:bold;transform:scaleX(0.998181871055919);transform-origin:left top;-webkit-text-stroke:0.3px currentColor;">37,1 %</div>
<div class="t" style="left:633.17px;top:258.30px;font-size:13.7px;line-height:13.7px;color:#196b24;font-weight:bold;transform:scaleX(1.0775036990185942);transform-origin:left top;-webkit-text-stroke:0.3px currentColor;">15m</div>
<div class="t" style="left:630.57px;top:276.10px;font-size:13.7px;line-height:13.7px;color:#196b24;font-weight:bold;transform:scaleX(0.9901678061971054);transform-origin:left top;-webkit-text-stroke:0.3px currentColor;">8,5 %</div>
<div class="t" style="left:799.40px;top:330.30px;font-size:13.7px;line-height:13.7px;color:#ec7a3c;font-weight:bold;transform:scaleX(1.0499871827736469);transform-origin:left top;-webkit-text-stroke:0.3px currentColor;">20m</div>
<div class="t" style="left:792.69px;top:348.20px;font-size:13.7px;line-height:13.7px;color:#ec7a3c;font-weight:bold;transform:scaleX(0.9957995754209429);transform-origin:left top;-webkit-text-stroke:0.3px currentColor;">30,4 %</div>
<div class="t" style="left:1110.82px;top:586.90px;font-size:13.7px;line-height:13.7px;color:#156082;font-weight:bold;transform:scaleX(0.9722865111862746);transform-origin:left top;-webkit-text-stroke:0.3px currentColor;">SSB</div>
<div class="t" style="left:1103.18px;top:605.10px;font-size:13.7px;line-height:13.7px;color:#156082;font-weight:bold;transform:scaleX(0.9911800000699724);transform-origin:left top;-webkit-text-stroke:0.3px currentColor;">57,2 %</div>
<div class="t" style="left:652.38px;top:586.30px;font-size:13.7px;line-height:13.7px;color:#e6702f;font-weight:bold;transform:scaleX(1.0966725335884924);transform-origin:left top;-webkit-text-stroke:0.3px currentColor;">CW</div>
<div class="t" style="left:643.92px;top:603.80px;font-size:13.7px;line-height:13.7px;color:#e6702f;font-weight:bold;transform:scaleX(1.0044057184427135);transform-origin:left top;-webkit-text-stroke:0.3px currentColor;">28,8 %</div>
<div class="t" style="left:765.02px;top:436.30px;font-size:13.7px;line-height:13.7px;color:#196b24;font-weight:bold;transform:scaleX(1.0730542173913986);transform-origin:left top;-webkit-text-stroke:0.3px currentColor;">FT8</div>
<div class="t" style="left:756.23px;top:454.40px;font-size:13.7px;line-height:13.7px;color:#196b24;font-weight:bold;transform:scaleX(1.0113985533466672);transform-origin:left top;-webkit-text-stroke:0.3px currentColor;">11,1 %</div>
<div class="t" style="left:837.40px;top:421.20px;font-size:13.7px;line-height:13.7px;color:#0f9ed5;font-weight:bold;transform:scaleX(1.068940828597072);transform-origin:left top;-webkit-text-stroke:0.3px currentColor;">Others</div>
<div class="t" style="left:843.59px;top:439.30px;font-size:13.7px;line-height:13.7px;color:#0f9ed5;font-weight:bold;transform:scaleX(0.9866975919230501);transform-origin:left top;-webkit-text-stroke:0.3px currentColor;">3,0 %</div>
</div></body></html>
